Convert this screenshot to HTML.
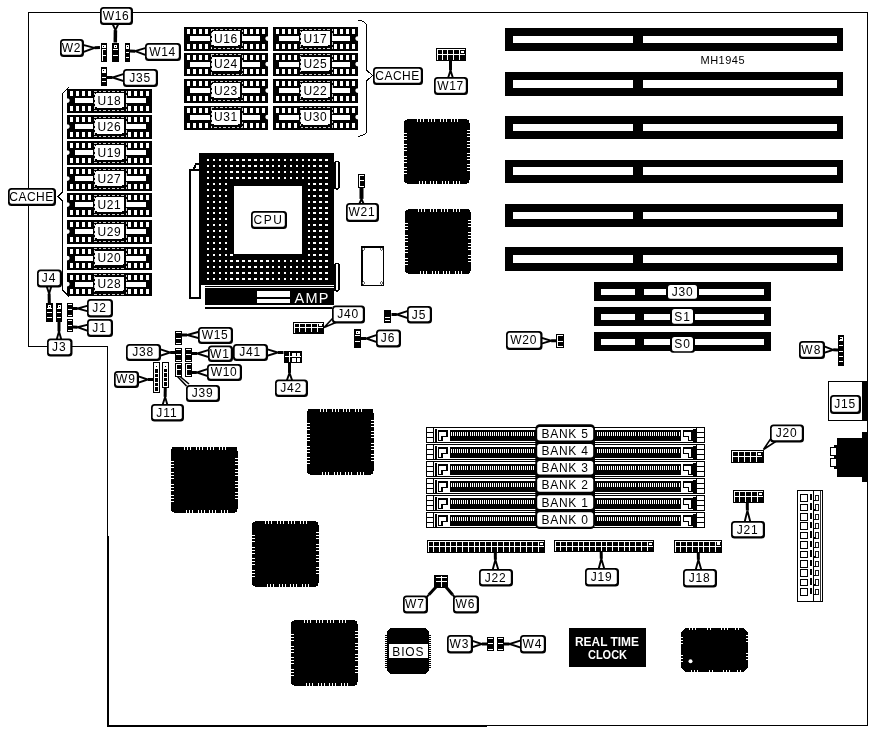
<!DOCTYPE html>
<html><head><meta charset="utf-8"><title>Motherboard layout</title>
<style>
html,body{margin:0;padding:0;background:#fff;}
svg{display:block;will-change:transform;}
svg text{font-family:"Liberation Sans",sans-serif;}
</style></head>
<body>
<svg width="873" height="731" viewBox="0 0 873 731" shape-rendering="crispEdges">
<rect x="0" y="0" width="873" height="731" fill="#fff"/>
<path d="M28.5,12.5 H867.5 V725.5 H107.5 V346.5 H28.5 Z" fill="none" stroke="#000" stroke-width="1"/>
<rect x="107" y="725" width="380" height="2" fill="#000" />
<rect x="107" y="536" width="2" height="191" fill="#000" />
<polygon points="112.63,24.0 115.43,30.11 118.37,24.0" fill="#fff" stroke="#000" stroke-width="1.9" stroke-linejoin="miter" shape-rendering="auto"/>
<line x1="115.43" y1="30.11" x2="115.3" y2="42.5" stroke="#000" stroke-width="3.5" shape-rendering="auto"/>
<rect x="100" y="7" width="33" height="18" rx="3.5" ry="3.5" fill="#000" shape-rendering="auto"/>
<rect x="101.7" y="8.7" width="29.1" height="14.1" rx="2" ry="2" fill="#fff" shape-rendering="auto"/>
<text x="116.0" y="19.82" font-size="12" letter-spacing="0.6" text-anchor="middle">W16</text>
<polygon points="83.0,44.81 94.56,47.82 83.0,52.19" fill="#fff" stroke="#000" stroke-width="1.9" stroke-linejoin="miter" shape-rendering="auto"/>
<line x1="94.56" y1="47.82" x2="100" y2="47.5" stroke="#000" stroke-width="3" shape-rendering="auto"/>
<rect x="60" y="39" width="24" height="18" rx="3.5" ry="3.5" fill="#000" shape-rendering="auto"/>
<rect x="61.7" y="40.7" width="20.1" height="14.1" rx="2" ry="2" fill="#fff" shape-rendering="auto"/>
<text x="71.5" y="51.82" font-size="12" letter-spacing="0.8" text-anchor="middle">W2</text>
<polygon points="146.0,47.81 135.12,51.16 146.0,55.19" fill="#fff" stroke="#000" stroke-width="1.9" stroke-linejoin="miter" shape-rendering="auto"/>
<line x1="135.12" y1="51.16" x2="130" y2="51" stroke="#000" stroke-width="3" shape-rendering="auto"/>
<rect x="145" y="43" width="36" height="18" rx="3.5" ry="3.5" fill="#000" shape-rendering="auto"/>
<rect x="146.7" y="44.7" width="32.1" height="14.1" rx="2" ry="2" fill="#fff" shape-rendering="auto"/>
<text x="162.5" y="55.82" font-size="12" letter-spacing="0.6" text-anchor="middle">W14</text>
<polygon points="124.0,73.81 112.44,77.5 124.0,81.19" fill="#fff" stroke="#000" stroke-width="1.9" stroke-linejoin="miter" shape-rendering="auto"/>
<line x1="112.44" y1="77.5" x2="107" y2="77.5" stroke="#000" stroke-width="3" shape-rendering="auto"/>
<rect x="123" y="69" width="35" height="18" rx="3.5" ry="3.5" fill="#000" shape-rendering="auto"/>
<rect x="124.7" y="70.7" width="31.1" height="14.1" rx="2" ry="2" fill="#fff" shape-rendering="auto"/>
<text x="140.0" y="81.82" font-size="12" letter-spacing="0.8" text-anchor="middle">J35</text>
<rect x="100.5" y="43" width="6.5" height="18.5" fill="#000" />
<rect x="102.0" y="44.5" width="3.5" height="3.0" fill="#fff" />
<rect x="103.2" y="45.5" width="1.1" height="1.0" fill="#000" />
<rect x="101.5" y="49.2" width="4.5" height="1.0" fill="#fff" />
<rect x="101.5" y="55.3" width="4.5" height="1.0" fill="#fff" />
<rect x="101.5" y="49" width="1.5" height="11.5" fill="#fff" />
<rect x="112.3" y="43" width="6.4" height="18.5" fill="#000" />
<rect x="113.8" y="44.5" width="3.4" height="3.0" fill="#fff" />
<rect x="114.9" y="45.5" width="1.2" height="1.0" fill="#000" />
<rect x="113.3" y="49.2" width="4.4" height="1.0" fill="#fff" />
<rect x="113.3" y="55.3" width="4.4" height="1.0" fill="#fff" />
<rect x="124.5" y="43" width="5.5" height="18.5" fill="#000" />
<rect x="126.0" y="44.5" width="2.5" height="3.0" fill="#fff" />
<rect x="126.7" y="45.5" width="1.1" height="1.0" fill="#000" />
<rect x="125.5" y="47.6" width="3.5" height="1.0" fill="#fff" />
<rect x="125.5" y="52.2" width="3.5" height="1.0" fill="#fff" />
<rect x="125.5" y="56.9" width="3.5" height="1.0" fill="#fff" />
<rect x="100.5" y="67" width="6.5" height="19" fill="#000" />
<rect x="102.0" y="68.5" width="3.5" height="3.0" fill="#fff" />
<rect x="103.2" y="69.5" width="1.1" height="1.0" fill="#000" />
<rect x="101.5" y="71.8" width="4.5" height="1.0" fill="#fff" />
<rect x="101.5" y="76.5" width="4.5" height="1.0" fill="#fff" />
<rect x="101.5" y="81.2" width="4.5" height="1.0" fill="#fff" />
<rect x="67" y="89" width="85" height="23.5" fill="#000" />
<rect x="70" y="91" width="3" height="5" fill="#fff" />
<rect x="70" y="105.5" width="3" height="5.0" fill="#fff" />
<rect x="146" y="91" width="3" height="5" fill="#fff" />
<rect x="146" y="105.5" width="3" height="5.0" fill="#fff" />
<rect x="76" y="91" width="3" height="5" fill="#fff" />
<rect x="76" y="105.5" width="3" height="5.0" fill="#fff" />
<rect x="140" y="91" width="3" height="5" fill="#fff" />
<rect x="140" y="105.5" width="3" height="5.0" fill="#fff" />
<rect x="82" y="91" width="3" height="5" fill="#fff" />
<rect x="82" y="105.5" width="3" height="5.0" fill="#fff" />
<rect x="134" y="91" width="3" height="5" fill="#fff" />
<rect x="134" y="105.5" width="3" height="5.0" fill="#fff" />
<rect x="88" y="91" width="3" height="5" fill="#fff" />
<rect x="88" y="105.5" width="3" height="5.0" fill="#fff" />
<rect x="128" y="91" width="3" height="5" fill="#fff" />
<rect x="128" y="105.5" width="3" height="5.0" fill="#fff" />
<rect x="75" y="98" width="18" height="5" fill="#fff" />
<rect x="126" y="98" width="20" height="5" fill="#fff" />
<path d="M66.8,98.3 a2.8,2.3 0 0 1 0,4.6 z" fill="#fff" shape-rendering="auto"/>
<rect x="94" y="91" width="32" height="19.5" fill="none" stroke="#fff" stroke-width="0.8" stroke-dasharray="2.5,2"/>
<rect x="95" y="93" width="29" height="14.5" rx="2" ry="2" fill="#fff"/>
<text x="109.5" y="104.55" font-size="12" letter-spacing="0.6" text-anchor="middle">U18</text>
<rect x="67" y="115" width="85" height="23.5" fill="#000" />
<rect x="70" y="117" width="3" height="5" fill="#fff" />
<rect x="70" y="131.5" width="3" height="5.0" fill="#fff" />
<rect x="146" y="117" width="3" height="5" fill="#fff" />
<rect x="146" y="131.5" width="3" height="5.0" fill="#fff" />
<rect x="76" y="117" width="3" height="5" fill="#fff" />
<rect x="76" y="131.5" width="3" height="5.0" fill="#fff" />
<rect x="140" y="117" width="3" height="5" fill="#fff" />
<rect x="140" y="131.5" width="3" height="5.0" fill="#fff" />
<rect x="82" y="117" width="3" height="5" fill="#fff" />
<rect x="82" y="131.5" width="3" height="5.0" fill="#fff" />
<rect x="134" y="117" width="3" height="5" fill="#fff" />
<rect x="134" y="131.5" width="3" height="5.0" fill="#fff" />
<rect x="88" y="117" width="3" height="5" fill="#fff" />
<rect x="88" y="131.5" width="3" height="5.0" fill="#fff" />
<rect x="128" y="117" width="3" height="5" fill="#fff" />
<rect x="128" y="131.5" width="3" height="5.0" fill="#fff" />
<rect x="75" y="124" width="18" height="5" fill="#fff" />
<rect x="126" y="124" width="20" height="5" fill="#fff" />
<path d="M66.8,124.3 a2.8,2.3 0 0 1 0,4.6 z" fill="#fff" shape-rendering="auto"/>
<rect x="94" y="117" width="32" height="19.5" fill="none" stroke="#fff" stroke-width="0.8" stroke-dasharray="2.5,2"/>
<rect x="95" y="119" width="29" height="14.5" rx="2" ry="2" fill="#fff"/>
<text x="109.5" y="130.55" font-size="12" letter-spacing="0.6" text-anchor="middle">U26</text>
<rect x="67" y="141" width="85" height="23.5" fill="#000" />
<rect x="70" y="143" width="3" height="5" fill="#fff" />
<rect x="70" y="157.5" width="3" height="5.0" fill="#fff" />
<rect x="146" y="143" width="3" height="5" fill="#fff" />
<rect x="146" y="157.5" width="3" height="5.0" fill="#fff" />
<rect x="76" y="143" width="3" height="5" fill="#fff" />
<rect x="76" y="157.5" width="3" height="5.0" fill="#fff" />
<rect x="140" y="143" width="3" height="5" fill="#fff" />
<rect x="140" y="157.5" width="3" height="5.0" fill="#fff" />
<rect x="82" y="143" width="3" height="5" fill="#fff" />
<rect x="82" y="157.5" width="3" height="5.0" fill="#fff" />
<rect x="134" y="143" width="3" height="5" fill="#fff" />
<rect x="134" y="157.5" width="3" height="5.0" fill="#fff" />
<rect x="88" y="143" width="3" height="5" fill="#fff" />
<rect x="88" y="157.5" width="3" height="5.0" fill="#fff" />
<rect x="128" y="143" width="3" height="5" fill="#fff" />
<rect x="128" y="157.5" width="3" height="5.0" fill="#fff" />
<rect x="75" y="150" width="18" height="5" fill="#fff" />
<rect x="126" y="150" width="20" height="5" fill="#fff" />
<path d="M66.8,150.3 a2.8,2.3 0 0 1 0,4.6 z" fill="#fff" shape-rendering="auto"/>
<rect x="94" y="143" width="32" height="19.5" fill="none" stroke="#fff" stroke-width="0.8" stroke-dasharray="2.5,2"/>
<rect x="95" y="145" width="29" height="14.5" rx="2" ry="2" fill="#fff"/>
<text x="109.5" y="156.55" font-size="12" letter-spacing="0.6" text-anchor="middle">U19</text>
<rect x="67" y="167" width="85" height="23.5" fill="#000" />
<rect x="70" y="169" width="3" height="5" fill="#fff" />
<rect x="70" y="183.5" width="3" height="5.0" fill="#fff" />
<rect x="146" y="169" width="3" height="5" fill="#fff" />
<rect x="146" y="183.5" width="3" height="5.0" fill="#fff" />
<rect x="76" y="169" width="3" height="5" fill="#fff" />
<rect x="76" y="183.5" width="3" height="5.0" fill="#fff" />
<rect x="140" y="169" width="3" height="5" fill="#fff" />
<rect x="140" y="183.5" width="3" height="5.0" fill="#fff" />
<rect x="82" y="169" width="3" height="5" fill="#fff" />
<rect x="82" y="183.5" width="3" height="5.0" fill="#fff" />
<rect x="134" y="169" width="3" height="5" fill="#fff" />
<rect x="134" y="183.5" width="3" height="5.0" fill="#fff" />
<rect x="88" y="169" width="3" height="5" fill="#fff" />
<rect x="88" y="183.5" width="3" height="5.0" fill="#fff" />
<rect x="128" y="169" width="3" height="5" fill="#fff" />
<rect x="128" y="183.5" width="3" height="5.0" fill="#fff" />
<rect x="75" y="176" width="18" height="5" fill="#fff" />
<rect x="126" y="176" width="20" height="5" fill="#fff" />
<path d="M66.8,176.3 a2.8,2.3 0 0 1 0,4.6 z" fill="#fff" shape-rendering="auto"/>
<rect x="94" y="169" width="32" height="19.5" fill="none" stroke="#fff" stroke-width="0.8" stroke-dasharray="2.5,2"/>
<rect x="95" y="171" width="29" height="14.5" rx="2" ry="2" fill="#fff"/>
<text x="109.5" y="182.55" font-size="12" letter-spacing="0.6" text-anchor="middle">U27</text>
<rect x="67" y="193" width="85" height="23.5" fill="#000" />
<rect x="70" y="195" width="3" height="5" fill="#fff" />
<rect x="70" y="209.5" width="3" height="5.0" fill="#fff" />
<rect x="146" y="195" width="3" height="5" fill="#fff" />
<rect x="146" y="209.5" width="3" height="5.0" fill="#fff" />
<rect x="76" y="195" width="3" height="5" fill="#fff" />
<rect x="76" y="209.5" width="3" height="5.0" fill="#fff" />
<rect x="140" y="195" width="3" height="5" fill="#fff" />
<rect x="140" y="209.5" width="3" height="5.0" fill="#fff" />
<rect x="82" y="195" width="3" height="5" fill="#fff" />
<rect x="82" y="209.5" width="3" height="5.0" fill="#fff" />
<rect x="134" y="195" width="3" height="5" fill="#fff" />
<rect x="134" y="209.5" width="3" height="5.0" fill="#fff" />
<rect x="88" y="195" width="3" height="5" fill="#fff" />
<rect x="88" y="209.5" width="3" height="5.0" fill="#fff" />
<rect x="128" y="195" width="3" height="5" fill="#fff" />
<rect x="128" y="209.5" width="3" height="5.0" fill="#fff" />
<rect x="75" y="202" width="18" height="5" fill="#fff" />
<rect x="126" y="202" width="20" height="5" fill="#fff" />
<path d="M66.8,202.3 a2.8,2.3 0 0 1 0,4.6 z" fill="#fff" shape-rendering="auto"/>
<rect x="94" y="195" width="32" height="19.5" fill="none" stroke="#fff" stroke-width="0.8" stroke-dasharray="2.5,2"/>
<rect x="95" y="197" width="29" height="14.5" rx="2" ry="2" fill="#fff"/>
<text x="109.5" y="208.55" font-size="12" letter-spacing="0.6" text-anchor="middle">U21</text>
<rect x="67" y="220" width="85" height="23.5" fill="#000" />
<rect x="70" y="222" width="3" height="5" fill="#fff" />
<rect x="70" y="236.5" width="3" height="5.0" fill="#fff" />
<rect x="146" y="222" width="3" height="5" fill="#fff" />
<rect x="146" y="236.5" width="3" height="5.0" fill="#fff" />
<rect x="76" y="222" width="3" height="5" fill="#fff" />
<rect x="76" y="236.5" width="3" height="5.0" fill="#fff" />
<rect x="140" y="222" width="3" height="5" fill="#fff" />
<rect x="140" y="236.5" width="3" height="5.0" fill="#fff" />
<rect x="82" y="222" width="3" height="5" fill="#fff" />
<rect x="82" y="236.5" width="3" height="5.0" fill="#fff" />
<rect x="134" y="222" width="3" height="5" fill="#fff" />
<rect x="134" y="236.5" width="3" height="5.0" fill="#fff" />
<rect x="88" y="222" width="3" height="5" fill="#fff" />
<rect x="88" y="236.5" width="3" height="5.0" fill="#fff" />
<rect x="128" y="222" width="3" height="5" fill="#fff" />
<rect x="128" y="236.5" width="3" height="5.0" fill="#fff" />
<rect x="75" y="229" width="18" height="5" fill="#fff" />
<rect x="126" y="229" width="20" height="5" fill="#fff" />
<path d="M66.8,229.3 a2.8,2.3 0 0 1 0,4.6 z" fill="#fff" shape-rendering="auto"/>
<rect x="94" y="222" width="32" height="19.5" fill="none" stroke="#fff" stroke-width="0.8" stroke-dasharray="2.5,2"/>
<rect x="95" y="224" width="29" height="14.5" rx="2" ry="2" fill="#fff"/>
<text x="109.5" y="235.55" font-size="12" letter-spacing="0.6" text-anchor="middle">U29</text>
<rect x="67" y="246.5" width="85" height="23.5" fill="#000" />
<rect x="70" y="248.5" width="3" height="5.0" fill="#fff" />
<rect x="70" y="263.0" width="3" height="5.0" fill="#fff" />
<rect x="146" y="248.5" width="3" height="5.0" fill="#fff" />
<rect x="146" y="263.0" width="3" height="5.0" fill="#fff" />
<rect x="76" y="248.5" width="3" height="5.0" fill="#fff" />
<rect x="76" y="263.0" width="3" height="5.0" fill="#fff" />
<rect x="140" y="248.5" width="3" height="5.0" fill="#fff" />
<rect x="140" y="263.0" width="3" height="5.0" fill="#fff" />
<rect x="82" y="248.5" width="3" height="5.0" fill="#fff" />
<rect x="82" y="263.0" width="3" height="5.0" fill="#fff" />
<rect x="134" y="248.5" width="3" height="5.0" fill="#fff" />
<rect x="134" y="263.0" width="3" height="5.0" fill="#fff" />
<rect x="88" y="248.5" width="3" height="5.0" fill="#fff" />
<rect x="88" y="263.0" width="3" height="5.0" fill="#fff" />
<rect x="128" y="248.5" width="3" height="5.0" fill="#fff" />
<rect x="128" y="263.0" width="3" height="5.0" fill="#fff" />
<rect x="75" y="255.5" width="18" height="5.0" fill="#fff" />
<rect x="126" y="255.5" width="20" height="5.0" fill="#fff" />
<path d="M66.8,255.8 a2.8,2.3 0 0 1 0,4.6 z" fill="#fff" shape-rendering="auto"/>
<rect x="94" y="248.5" width="32" height="19.5" fill="none" stroke="#fff" stroke-width="0.8" stroke-dasharray="2.5,2"/>
<rect x="95" y="250.5" width="29" height="14.5" rx="2" ry="2" fill="#fff"/>
<text x="109.5" y="262.05" font-size="12" letter-spacing="0.6" text-anchor="middle">U20</text>
<rect x="67" y="272.5" width="85" height="23.5" fill="#000" />
<rect x="70" y="274.5" width="3" height="5.0" fill="#fff" />
<rect x="70" y="289.0" width="3" height="5.0" fill="#fff" />
<rect x="146" y="274.5" width="3" height="5.0" fill="#fff" />
<rect x="146" y="289.0" width="3" height="5.0" fill="#fff" />
<rect x="76" y="274.5" width="3" height="5.0" fill="#fff" />
<rect x="76" y="289.0" width="3" height="5.0" fill="#fff" />
<rect x="140" y="274.5" width="3" height="5.0" fill="#fff" />
<rect x="140" y="289.0" width="3" height="5.0" fill="#fff" />
<rect x="82" y="274.5" width="3" height="5.0" fill="#fff" />
<rect x="82" y="289.0" width="3" height="5.0" fill="#fff" />
<rect x="134" y="274.5" width="3" height="5.0" fill="#fff" />
<rect x="134" y="289.0" width="3" height="5.0" fill="#fff" />
<rect x="88" y="274.5" width="3" height="5.0" fill="#fff" />
<rect x="88" y="289.0" width="3" height="5.0" fill="#fff" />
<rect x="128" y="274.5" width="3" height="5.0" fill="#fff" />
<rect x="128" y="289.0" width="3" height="5.0" fill="#fff" />
<rect x="75" y="281.5" width="18" height="5.0" fill="#fff" />
<rect x="126" y="281.5" width="20" height="5.0" fill="#fff" />
<path d="M66.8,281.8 a2.8,2.3 0 0 1 0,4.6 z" fill="#fff" shape-rendering="auto"/>
<rect x="94" y="274.5" width="32" height="19.5" fill="none" stroke="#fff" stroke-width="0.8" stroke-dasharray="2.5,2"/>
<rect x="95" y="276.5" width="29" height="14.5" rx="2" ry="2" fill="#fff"/>
<text x="109.5" y="288.05" font-size="12" letter-spacing="0.6" text-anchor="middle">U28</text>
<path d="M69,87 L62.5,93.5 V192 L58,196.5 L62.5,201 V290 L69,296.5" fill="none" stroke="#000" stroke-width="1"/>
<rect x="8" y="188" width="48" height="18" rx="3.5" ry="3.5" fill="#000" shape-rendering="auto"/>
<rect x="9.7" y="189.7" width="44.1" height="14.1" rx="2" ry="2" fill="#fff" shape-rendering="auto"/>
<text x="31.5" y="200.82" font-size="12" letter-spacing="0.5" text-anchor="middle">CACHE</text>
<rect x="184" y="27" width="84" height="23.5" fill="#000" />
<rect x="187" y="29" width="3" height="5" fill="#fff" />
<rect x="187" y="43.5" width="3" height="5.0" fill="#fff" />
<rect x="262" y="29" width="3" height="5" fill="#fff" />
<rect x="262" y="43.5" width="3" height="5.0" fill="#fff" />
<rect x="193" y="29" width="3" height="5" fill="#fff" />
<rect x="193" y="43.5" width="3" height="5.0" fill="#fff" />
<rect x="256" y="29" width="3" height="5" fill="#fff" />
<rect x="256" y="43.5" width="3" height="5.0" fill="#fff" />
<rect x="199" y="29" width="3" height="5" fill="#fff" />
<rect x="199" y="43.5" width="3" height="5.0" fill="#fff" />
<rect x="250" y="29" width="3" height="5" fill="#fff" />
<rect x="250" y="43.5" width="3" height="5.0" fill="#fff" />
<rect x="205" y="29" width="3" height="5" fill="#fff" />
<rect x="205" y="43.5" width="3" height="5.0" fill="#fff" />
<rect x="244" y="29" width="3" height="5" fill="#fff" />
<rect x="244" y="43.5" width="3" height="5.0" fill="#fff" />
<rect x="190" y="36" width="20" height="5" fill="#fff" />
<rect x="242" y="36" width="18" height="5" fill="#fff" />
<path d="M268.2,36.3 a2.8,2.3 0 0 0 0,4.6 z" fill="#fff" shape-rendering="auto"/>
<rect x="211" y="29" width="31" height="19.5" fill="none" stroke="#fff" stroke-width="0.8" stroke-dasharray="2.5,2"/>
<rect x="212" y="31" width="28" height="14.5" rx="2" ry="2" fill="#fff"/>
<text x="226.0" y="42.55" font-size="12" letter-spacing="0.6" text-anchor="middle">U16</text>
<rect x="273" y="27" width="85" height="23.5" fill="#000" />
<rect x="276" y="29" width="3" height="5" fill="#fff" />
<rect x="276" y="43.5" width="3" height="5.0" fill="#fff" />
<rect x="352" y="29" width="3" height="5" fill="#fff" />
<rect x="352" y="43.5" width="3" height="5.0" fill="#fff" />
<rect x="282" y="29" width="3" height="5" fill="#fff" />
<rect x="282" y="43.5" width="3" height="5.0" fill="#fff" />
<rect x="346" y="29" width="3" height="5" fill="#fff" />
<rect x="346" y="43.5" width="3" height="5.0" fill="#fff" />
<rect x="288" y="29" width="3" height="5" fill="#fff" />
<rect x="288" y="43.5" width="3" height="5.0" fill="#fff" />
<rect x="340" y="29" width="3" height="5" fill="#fff" />
<rect x="340" y="43.5" width="3" height="5.0" fill="#fff" />
<rect x="294" y="29" width="3" height="5" fill="#fff" />
<rect x="294" y="43.5" width="3" height="5.0" fill="#fff" />
<rect x="334" y="29" width="3" height="5" fill="#fff" />
<rect x="334" y="43.5" width="3" height="5.0" fill="#fff" />
<rect x="279" y="36" width="20" height="5" fill="#fff" />
<rect x="332" y="36" width="18" height="5" fill="#fff" />
<path d="M358.2,36.3 a2.8,2.3 0 0 0 0,4.6 z" fill="#fff" shape-rendering="auto"/>
<rect x="300" y="29" width="32" height="19.5" fill="none" stroke="#fff" stroke-width="0.8" stroke-dasharray="2.5,2"/>
<rect x="301" y="31" width="29" height="14.5" rx="2" ry="2" fill="#fff"/>
<text x="315.5" y="42.55" font-size="12" letter-spacing="0.6" text-anchor="middle">U17</text>
<rect x="184" y="52.5" width="84" height="23.5" fill="#000" />
<rect x="187" y="54.5" width="3" height="5.0" fill="#fff" />
<rect x="187" y="69.0" width="3" height="5.0" fill="#fff" />
<rect x="262" y="54.5" width="3" height="5.0" fill="#fff" />
<rect x="262" y="69.0" width="3" height="5.0" fill="#fff" />
<rect x="193" y="54.5" width="3" height="5.0" fill="#fff" />
<rect x="193" y="69.0" width="3" height="5.0" fill="#fff" />
<rect x="256" y="54.5" width="3" height="5.0" fill="#fff" />
<rect x="256" y="69.0" width="3" height="5.0" fill="#fff" />
<rect x="199" y="54.5" width="3" height="5.0" fill="#fff" />
<rect x="199" y="69.0" width="3" height="5.0" fill="#fff" />
<rect x="250" y="54.5" width="3" height="5.0" fill="#fff" />
<rect x="250" y="69.0" width="3" height="5.0" fill="#fff" />
<rect x="205" y="54.5" width="3" height="5.0" fill="#fff" />
<rect x="205" y="69.0" width="3" height="5.0" fill="#fff" />
<rect x="244" y="54.5" width="3" height="5.0" fill="#fff" />
<rect x="244" y="69.0" width="3" height="5.0" fill="#fff" />
<rect x="190" y="61.5" width="20" height="5.0" fill="#fff" />
<rect x="242" y="61.5" width="18" height="5.0" fill="#fff" />
<path d="M268.2,61.8 a2.8,2.3 0 0 0 0,4.6 z" fill="#fff" shape-rendering="auto"/>
<rect x="211" y="54.5" width="31" height="19.5" fill="none" stroke="#fff" stroke-width="0.8" stroke-dasharray="2.5,2"/>
<rect x="212" y="56.5" width="28" height="14.5" rx="2" ry="2" fill="#fff"/>
<text x="226.0" y="68.05" font-size="12" letter-spacing="0.6" text-anchor="middle">U24</text>
<rect x="273" y="52.5" width="85" height="23.5" fill="#000" />
<rect x="276" y="54.5" width="3" height="5.0" fill="#fff" />
<rect x="276" y="69.0" width="3" height="5.0" fill="#fff" />
<rect x="352" y="54.5" width="3" height="5.0" fill="#fff" />
<rect x="352" y="69.0" width="3" height="5.0" fill="#fff" />
<rect x="282" y="54.5" width="3" height="5.0" fill="#fff" />
<rect x="282" y="69.0" width="3" height="5.0" fill="#fff" />
<rect x="346" y="54.5" width="3" height="5.0" fill="#fff" />
<rect x="346" y="69.0" width="3" height="5.0" fill="#fff" />
<rect x="288" y="54.5" width="3" height="5.0" fill="#fff" />
<rect x="288" y="69.0" width="3" height="5.0" fill="#fff" />
<rect x="340" y="54.5" width="3" height="5.0" fill="#fff" />
<rect x="340" y="69.0" width="3" height="5.0" fill="#fff" />
<rect x="294" y="54.5" width="3" height="5.0" fill="#fff" />
<rect x="294" y="69.0" width="3" height="5.0" fill="#fff" />
<rect x="334" y="54.5" width="3" height="5.0" fill="#fff" />
<rect x="334" y="69.0" width="3" height="5.0" fill="#fff" />
<rect x="279" y="61.5" width="20" height="5.0" fill="#fff" />
<rect x="332" y="61.5" width="18" height="5.0" fill="#fff" />
<path d="M358.2,61.8 a2.8,2.3 0 0 0 0,4.6 z" fill="#fff" shape-rendering="auto"/>
<rect x="300" y="54.5" width="32" height="19.5" fill="none" stroke="#fff" stroke-width="0.8" stroke-dasharray="2.5,2"/>
<rect x="301" y="56.5" width="29" height="14.5" rx="2" ry="2" fill="#fff"/>
<text x="315.5" y="68.05" font-size="12" letter-spacing="0.6" text-anchor="middle">U25</text>
<rect x="184" y="79" width="84" height="23.5" fill="#000" />
<rect x="187" y="81" width="3" height="5" fill="#fff" />
<rect x="187" y="95.5" width="3" height="5.0" fill="#fff" />
<rect x="262" y="81" width="3" height="5" fill="#fff" />
<rect x="262" y="95.5" width="3" height="5.0" fill="#fff" />
<rect x="193" y="81" width="3" height="5" fill="#fff" />
<rect x="193" y="95.5" width="3" height="5.0" fill="#fff" />
<rect x="256" y="81" width="3" height="5" fill="#fff" />
<rect x="256" y="95.5" width="3" height="5.0" fill="#fff" />
<rect x="199" y="81" width="3" height="5" fill="#fff" />
<rect x="199" y="95.5" width="3" height="5.0" fill="#fff" />
<rect x="250" y="81" width="3" height="5" fill="#fff" />
<rect x="250" y="95.5" width="3" height="5.0" fill="#fff" />
<rect x="205" y="81" width="3" height="5" fill="#fff" />
<rect x="205" y="95.5" width="3" height="5.0" fill="#fff" />
<rect x="244" y="81" width="3" height="5" fill="#fff" />
<rect x="244" y="95.5" width="3" height="5.0" fill="#fff" />
<rect x="190" y="88" width="20" height="5" fill="#fff" />
<rect x="242" y="88" width="18" height="5" fill="#fff" />
<path d="M268.2,88.3 a2.8,2.3 0 0 0 0,4.6 z" fill="#fff" shape-rendering="auto"/>
<rect x="211" y="81" width="31" height="19.5" fill="none" stroke="#fff" stroke-width="0.8" stroke-dasharray="2.5,2"/>
<rect x="212" y="83" width="28" height="14.5" rx="2" ry="2" fill="#fff"/>
<text x="226.0" y="94.55" font-size="12" letter-spacing="0.6" text-anchor="middle">U23</text>
<rect x="273" y="79" width="85" height="23.5" fill="#000" />
<rect x="276" y="81" width="3" height="5" fill="#fff" />
<rect x="276" y="95.5" width="3" height="5.0" fill="#fff" />
<rect x="352" y="81" width="3" height="5" fill="#fff" />
<rect x="352" y="95.5" width="3" height="5.0" fill="#fff" />
<rect x="282" y="81" width="3" height="5" fill="#fff" />
<rect x="282" y="95.5" width="3" height="5.0" fill="#fff" />
<rect x="346" y="81" width="3" height="5" fill="#fff" />
<rect x="346" y="95.5" width="3" height="5.0" fill="#fff" />
<rect x="288" y="81" width="3" height="5" fill="#fff" />
<rect x="288" y="95.5" width="3" height="5.0" fill="#fff" />
<rect x="340" y="81" width="3" height="5" fill="#fff" />
<rect x="340" y="95.5" width="3" height="5.0" fill="#fff" />
<rect x="294" y="81" width="3" height="5" fill="#fff" />
<rect x="294" y="95.5" width="3" height="5.0" fill="#fff" />
<rect x="334" y="81" width="3" height="5" fill="#fff" />
<rect x="334" y="95.5" width="3" height="5.0" fill="#fff" />
<rect x="279" y="88" width="20" height="5" fill="#fff" />
<rect x="332" y="88" width="18" height="5" fill="#fff" />
<path d="M358.2,88.3 a2.8,2.3 0 0 0 0,4.6 z" fill="#fff" shape-rendering="auto"/>
<rect x="300" y="81" width="32" height="19.5" fill="none" stroke="#fff" stroke-width="0.8" stroke-dasharray="2.5,2"/>
<rect x="301" y="83" width="29" height="14.5" rx="2" ry="2" fill="#fff"/>
<text x="315.5" y="94.55" font-size="12" letter-spacing="0.6" text-anchor="middle">U22</text>
<rect x="184" y="105.5" width="84" height="24.0" fill="#000" />
<rect x="187" y="107.5" width="3" height="5.0" fill="#fff" />
<rect x="187" y="122.5" width="3" height="5.0" fill="#fff" />
<rect x="262" y="107.5" width="3" height="5.0" fill="#fff" />
<rect x="262" y="122.5" width="3" height="5.0" fill="#fff" />
<rect x="193" y="107.5" width="3" height="5.0" fill="#fff" />
<rect x="193" y="122.5" width="3" height="5.0" fill="#fff" />
<rect x="256" y="107.5" width="3" height="5.0" fill="#fff" />
<rect x="256" y="122.5" width="3" height="5.0" fill="#fff" />
<rect x="199" y="107.5" width="3" height="5.0" fill="#fff" />
<rect x="199" y="122.5" width="3" height="5.0" fill="#fff" />
<rect x="250" y="107.5" width="3" height="5.0" fill="#fff" />
<rect x="250" y="122.5" width="3" height="5.0" fill="#fff" />
<rect x="205" y="107.5" width="3" height="5.0" fill="#fff" />
<rect x="205" y="122.5" width="3" height="5.0" fill="#fff" />
<rect x="244" y="107.5" width="3" height="5.0" fill="#fff" />
<rect x="244" y="122.5" width="3" height="5.0" fill="#fff" />
<rect x="190" y="114.5" width="20" height="5.0" fill="#fff" />
<rect x="242" y="114.5" width="18" height="5.0" fill="#fff" />
<path d="M268.2,114.8 a2.8,2.3 0 0 0 0,4.6 z" fill="#fff" shape-rendering="auto"/>
<rect x="211" y="107.5" width="31" height="20.0" fill="none" stroke="#fff" stroke-width="0.8" stroke-dasharray="2.5,2"/>
<rect x="212" y="109.5" width="28" height="15.0" rx="2" ry="2" fill="#fff"/>
<text x="226.0" y="121.3" font-size="12" letter-spacing="0.6" text-anchor="middle">U31</text>
<rect x="273" y="105.5" width="85" height="24.0" fill="#000" />
<rect x="276" y="107.5" width="3" height="5.0" fill="#fff" />
<rect x="276" y="122.5" width="3" height="5.0" fill="#fff" />
<rect x="352" y="107.5" width="3" height="5.0" fill="#fff" />
<rect x="352" y="122.5" width="3" height="5.0" fill="#fff" />
<rect x="282" y="107.5" width="3" height="5.0" fill="#fff" />
<rect x="282" y="122.5" width="3" height="5.0" fill="#fff" />
<rect x="346" y="107.5" width="3" height="5.0" fill="#fff" />
<rect x="346" y="122.5" width="3" height="5.0" fill="#fff" />
<rect x="288" y="107.5" width="3" height="5.0" fill="#fff" />
<rect x="288" y="122.5" width="3" height="5.0" fill="#fff" />
<rect x="340" y="107.5" width="3" height="5.0" fill="#fff" />
<rect x="340" y="122.5" width="3" height="5.0" fill="#fff" />
<rect x="294" y="107.5" width="3" height="5.0" fill="#fff" />
<rect x="294" y="122.5" width="3" height="5.0" fill="#fff" />
<rect x="334" y="107.5" width="3" height="5.0" fill="#fff" />
<rect x="334" y="122.5" width="3" height="5.0" fill="#fff" />
<rect x="279" y="114.5" width="20" height="5.0" fill="#fff" />
<rect x="332" y="114.5" width="18" height="5.0" fill="#fff" />
<path d="M358.2,114.8 a2.8,2.3 0 0 0 0,4.6 z" fill="#fff" shape-rendering="auto"/>
<rect x="300" y="107.5" width="32" height="20.0" fill="none" stroke="#fff" stroke-width="0.8" stroke-dasharray="2.5,2"/>
<rect x="301" y="109.5" width="29" height="15.0" rx="2" ry="2" fill="#fff"/>
<text x="315.5" y="121.3" font-size="12" letter-spacing="0.6" text-anchor="middle">U30</text>
<path d="M358,20.5 Q366.5,21 366.5,26 V70 L372.5,75.5 L366.5,81 V131 Q366.5,135 358,136.5" fill="none" stroke="#000" stroke-width="1"/>
<rect x="373" y="67" width="50" height="18" rx="3.5" ry="3.5" fill="#000" shape-rendering="auto"/>
<rect x="374.7" y="68.7" width="46.1" height="14.1" rx="2" ry="2" fill="#fff" shape-rendering="auto"/>
<text x="397.5" y="79.82" font-size="12" letter-spacing="0.5" text-anchor="middle">CACHE</text>
<path d="M190,170 H193.5 L196,164 H199.5 V298.3 H190 Z" fill="#fff" stroke="#000" stroke-width="2"/>
<rect x="189" y="169" width="10.5" height="2" fill="#000" />
<rect x="199" y="153" width="135" height="132" fill="#000" />
<rect x="234" y="186" width="68" height="68" fill="#fff" />
<rect x="206.75" y="159.1" width="2.5" height="2.0" fill="#fff" />
<rect x="212.68" y="159.1" width="2.5" height="2.0" fill="#fff" />
<rect x="218.61" y="159.1" width="2.5" height="2.0" fill="#fff" />
<rect x="224.54" y="159.1" width="2.5" height="2.0" fill="#fff" />
<rect x="230.47" y="159.1" width="2.5" height="2.0" fill="#fff" />
<rect x="236.4" y="159.1" width="2.5" height="2.0" fill="#fff" />
<rect x="242.33" y="159.1" width="2.5" height="2.0" fill="#fff" />
<rect x="248.26" y="159.1" width="2.5" height="2.0" fill="#fff" />
<rect x="254.19" y="159.1" width="2.5" height="2.0" fill="#fff" />
<rect x="260.12" y="159.1" width="2.5" height="2.0" fill="#fff" />
<rect x="266.05" y="159.1" width="2.5" height="2.0" fill="#fff" />
<rect x="271.98" y="159.1" width="2.5" height="2.0" fill="#fff" />
<rect x="277.91" y="159.1" width="2.5" height="2.0" fill="#fff" />
<rect x="283.84" y="159.1" width="2.5" height="2.0" fill="#fff" />
<rect x="289.77" y="159.1" width="2.5" height="2.0" fill="#fff" />
<rect x="295.7" y="159.1" width="2.5" height="2.0" fill="#fff" />
<rect x="301.63" y="159.1" width="2.5" height="2.0" fill="#fff" />
<rect x="307.56" y="159.1" width="2.5" height="2.0" fill="#fff" />
<rect x="313.49" y="159.1" width="2.5" height="2.0" fill="#fff" />
<rect x="319.42" y="159.1" width="2.5" height="2.0" fill="#fff" />
<rect x="325.35" y="159.1" width="2.5" height="2.0" fill="#fff" />
<rect x="206.75" y="165.03" width="2.5" height="2.0" fill="#fff" />
<rect x="212.68" y="165.03" width="2.5" height="2.0" fill="#fff" />
<rect x="218.61" y="165.03" width="2.5" height="2.0" fill="#fff" />
<rect x="224.54" y="165.03" width="2.5" height="2.0" fill="#fff" />
<rect x="230.47" y="165.03" width="2.5" height="2.0" fill="#fff" />
<rect x="236.4" y="165.03" width="2.5" height="2.0" fill="#fff" />
<rect x="242.33" y="165.03" width="2.5" height="2.0" fill="#fff" />
<rect x="248.26" y="165.03" width="2.5" height="2.0" fill="#fff" />
<rect x="254.19" y="165.03" width="2.5" height="2.0" fill="#fff" />
<rect x="260.12" y="165.03" width="2.5" height="2.0" fill="#fff" />
<rect x="266.05" y="165.03" width="2.5" height="2.0" fill="#fff" />
<rect x="271.98" y="165.03" width="2.5" height="2.0" fill="#fff" />
<rect x="277.91" y="165.03" width="2.5" height="2.0" fill="#fff" />
<rect x="283.84" y="165.03" width="2.5" height="2.0" fill="#fff" />
<rect x="289.77" y="165.03" width="2.5" height="2.0" fill="#fff" />
<rect x="295.7" y="165.03" width="2.5" height="2.0" fill="#fff" />
<rect x="301.63" y="165.03" width="2.5" height="2.0" fill="#fff" />
<rect x="307.56" y="165.03" width="2.5" height="2.0" fill="#fff" />
<rect x="313.49" y="165.03" width="2.5" height="2.0" fill="#fff" />
<rect x="319.42" y="165.03" width="2.5" height="2.0" fill="#fff" />
<rect x="325.35" y="165.03" width="2.5" height="2.0" fill="#fff" />
<rect x="206.75" y="170.96" width="2.5" height="2.0" fill="#fff" />
<rect x="212.68" y="170.96" width="2.5" height="2.0" fill="#fff" />
<rect x="218.61" y="170.96" width="2.5" height="2.0" fill="#fff" />
<rect x="224.54" y="170.96" width="2.5" height="2.0" fill="#fff" />
<rect x="230.47" y="170.96" width="2.5" height="2.0" fill="#fff" />
<rect x="236.4" y="170.96" width="2.5" height="2.0" fill="#fff" />
<rect x="242.33" y="170.96" width="2.5" height="2.0" fill="#fff" />
<rect x="248.26" y="170.96" width="2.5" height="2.0" fill="#fff" />
<rect x="254.19" y="170.96" width="2.5" height="2.0" fill="#fff" />
<rect x="260.12" y="170.96" width="2.5" height="2.0" fill="#fff" />
<rect x="266.05" y="170.96" width="2.5" height="2.0" fill="#fff" />
<rect x="271.98" y="170.96" width="2.5" height="2.0" fill="#fff" />
<rect x="277.91" y="170.96" width="2.5" height="2.0" fill="#fff" />
<rect x="283.84" y="170.96" width="2.5" height="2.0" fill="#fff" />
<rect x="289.77" y="170.96" width="2.5" height="2.0" fill="#fff" />
<rect x="295.7" y="170.96" width="2.5" height="2.0" fill="#fff" />
<rect x="301.63" y="170.96" width="2.5" height="2.0" fill="#fff" />
<rect x="307.56" y="170.96" width="2.5" height="2.0" fill="#fff" />
<rect x="313.49" y="170.96" width="2.5" height="2.0" fill="#fff" />
<rect x="319.42" y="170.96" width="2.5" height="2.0" fill="#fff" />
<rect x="325.35" y="170.96" width="2.5" height="2.0" fill="#fff" />
<rect x="206.75" y="176.89" width="2.5" height="2.0" fill="#fff" />
<rect x="212.68" y="176.89" width="2.5" height="2.0" fill="#fff" />
<rect x="218.61" y="176.89" width="2.5" height="2.0" fill="#fff" />
<rect x="224.54" y="176.89" width="2.5" height="2.0" fill="#fff" />
<rect x="230.47" y="176.89" width="2.5" height="2.0" fill="#fff" />
<rect x="236.4" y="176.89" width="2.5" height="2.0" fill="#fff" />
<rect x="242.33" y="176.89" width="2.5" height="2.0" fill="#fff" />
<rect x="248.26" y="176.89" width="2.5" height="2.0" fill="#fff" />
<rect x="254.19" y="176.89" width="2.5" height="2.0" fill="#fff" />
<rect x="260.12" y="176.89" width="2.5" height="2.0" fill="#fff" />
<rect x="266.05" y="176.89" width="2.5" height="2.0" fill="#fff" />
<rect x="271.98" y="176.89" width="2.5" height="2.0" fill="#fff" />
<rect x="277.91" y="176.89" width="2.5" height="2.0" fill="#fff" />
<rect x="283.84" y="176.89" width="2.5" height="2.0" fill="#fff" />
<rect x="289.77" y="176.89" width="2.5" height="2.0" fill="#fff" />
<rect x="295.7" y="176.89" width="2.5" height="2.0" fill="#fff" />
<rect x="301.63" y="176.89" width="2.5" height="2.0" fill="#fff" />
<rect x="307.56" y="176.89" width="2.5" height="2.0" fill="#fff" />
<rect x="313.49" y="176.89" width="2.5" height="2.0" fill="#fff" />
<rect x="319.42" y="176.89" width="2.5" height="2.0" fill="#fff" />
<rect x="325.35" y="176.89" width="2.5" height="2.0" fill="#fff" />
<rect x="206.75" y="182.82" width="2.5" height="2.0" fill="#fff" />
<rect x="212.68" y="182.82" width="2.5" height="2.0" fill="#fff" />
<rect x="218.61" y="182.82" width="2.5" height="2.0" fill="#fff" />
<rect x="224.54" y="182.82" width="2.5" height="2.0" fill="#fff" />
<rect x="307.56" y="182.82" width="2.5" height="2.0" fill="#fff" />
<rect x="313.49" y="182.82" width="2.5" height="2.0" fill="#fff" />
<rect x="319.42" y="182.82" width="2.5" height="2.0" fill="#fff" />
<rect x="325.35" y="182.82" width="2.5" height="2.0" fill="#fff" />
<rect x="206.75" y="188.75" width="2.5" height="2.0" fill="#fff" />
<rect x="212.68" y="188.75" width="2.5" height="2.0" fill="#fff" />
<rect x="218.61" y="188.75" width="2.5" height="2.0" fill="#fff" />
<rect x="224.54" y="188.75" width="2.5" height="2.0" fill="#fff" />
<rect x="307.56" y="188.75" width="2.5" height="2.0" fill="#fff" />
<rect x="313.49" y="188.75" width="2.5" height="2.0" fill="#fff" />
<rect x="319.42" y="188.75" width="2.5" height="2.0" fill="#fff" />
<rect x="325.35" y="188.75" width="2.5" height="2.0" fill="#fff" />
<rect x="206.75" y="194.68" width="2.5" height="2.0" fill="#fff" />
<rect x="212.68" y="194.68" width="2.5" height="2.0" fill="#fff" />
<rect x="218.61" y="194.68" width="2.5" height="2.0" fill="#fff" />
<rect x="224.54" y="194.68" width="2.5" height="2.0" fill="#fff" />
<rect x="307.56" y="194.68" width="2.5" height="2.0" fill="#fff" />
<rect x="313.49" y="194.68" width="2.5" height="2.0" fill="#fff" />
<rect x="319.42" y="194.68" width="2.5" height="2.0" fill="#fff" />
<rect x="325.35" y="194.68" width="2.5" height="2.0" fill="#fff" />
<rect x="206.75" y="200.61" width="2.5" height="2.0" fill="#fff" />
<rect x="212.68" y="200.61" width="2.5" height="2.0" fill="#fff" />
<rect x="218.61" y="200.61" width="2.5" height="2.0" fill="#fff" />
<rect x="224.54" y="200.61" width="2.5" height="2.0" fill="#fff" />
<rect x="307.56" y="200.61" width="2.5" height="2.0" fill="#fff" />
<rect x="313.49" y="200.61" width="2.5" height="2.0" fill="#fff" />
<rect x="319.42" y="200.61" width="2.5" height="2.0" fill="#fff" />
<rect x="325.35" y="200.61" width="2.5" height="2.0" fill="#fff" />
<rect x="206.75" y="206.54" width="2.5" height="2.0" fill="#fff" />
<rect x="212.68" y="206.54" width="2.5" height="2.0" fill="#fff" />
<rect x="218.61" y="206.54" width="2.5" height="2.0" fill="#fff" />
<rect x="224.54" y="206.54" width="2.5" height="2.0" fill="#fff" />
<rect x="307.56" y="206.54" width="2.5" height="2.0" fill="#fff" />
<rect x="313.49" y="206.54" width="2.5" height="2.0" fill="#fff" />
<rect x="319.42" y="206.54" width="2.5" height="2.0" fill="#fff" />
<rect x="325.35" y="206.54" width="2.5" height="2.0" fill="#fff" />
<rect x="206.75" y="212.47" width="2.5" height="2.0" fill="#fff" />
<rect x="212.68" y="212.47" width="2.5" height="2.0" fill="#fff" />
<rect x="218.61" y="212.47" width="2.5" height="2.0" fill="#fff" />
<rect x="224.54" y="212.47" width="2.5" height="2.0" fill="#fff" />
<rect x="307.56" y="212.47" width="2.5" height="2.0" fill="#fff" />
<rect x="313.49" y="212.47" width="2.5" height="2.0" fill="#fff" />
<rect x="319.42" y="212.47" width="2.5" height="2.0" fill="#fff" />
<rect x="325.35" y="212.47" width="2.5" height="2.0" fill="#fff" />
<rect x="206.75" y="218.4" width="2.5" height="2.0" fill="#fff" />
<rect x="212.68" y="218.4" width="2.5" height="2.0" fill="#fff" />
<rect x="218.61" y="218.4" width="2.5" height="2.0" fill="#fff" />
<rect x="224.54" y="218.4" width="2.5" height="2.0" fill="#fff" />
<rect x="307.56" y="218.4" width="2.5" height="2.0" fill="#fff" />
<rect x="313.49" y="218.4" width="2.5" height="2.0" fill="#fff" />
<rect x="319.42" y="218.4" width="2.5" height="2.0" fill="#fff" />
<rect x="325.35" y="218.4" width="2.5" height="2.0" fill="#fff" />
<rect x="206.75" y="224.33" width="2.5" height="2.0" fill="#fff" />
<rect x="212.68" y="224.33" width="2.5" height="2.0" fill="#fff" />
<rect x="218.61" y="224.33" width="2.5" height="2.0" fill="#fff" />
<rect x="224.54" y="224.33" width="2.5" height="2.0" fill="#fff" />
<rect x="307.56" y="224.33" width="2.5" height="2.0" fill="#fff" />
<rect x="313.49" y="224.33" width="2.5" height="2.0" fill="#fff" />
<rect x="319.42" y="224.33" width="2.5" height="2.0" fill="#fff" />
<rect x="325.35" y="224.33" width="2.5" height="2.0" fill="#fff" />
<rect x="206.75" y="230.26" width="2.5" height="2.0" fill="#fff" />
<rect x="212.68" y="230.26" width="2.5" height="2.0" fill="#fff" />
<rect x="218.61" y="230.26" width="2.5" height="2.0" fill="#fff" />
<rect x="224.54" y="230.26" width="2.5" height="2.0" fill="#fff" />
<rect x="307.56" y="230.26" width="2.5" height="2.0" fill="#fff" />
<rect x="313.49" y="230.26" width="2.5" height="2.0" fill="#fff" />
<rect x="319.42" y="230.26" width="2.5" height="2.0" fill="#fff" />
<rect x="325.35" y="230.26" width="2.5" height="2.0" fill="#fff" />
<rect x="206.75" y="236.19" width="2.5" height="2.0" fill="#fff" />
<rect x="212.68" y="236.19" width="2.5" height="2.0" fill="#fff" />
<rect x="218.61" y="236.19" width="2.5" height="2.0" fill="#fff" />
<rect x="224.54" y="236.19" width="2.5" height="2.0" fill="#fff" />
<rect x="307.56" y="236.19" width="2.5" height="2.0" fill="#fff" />
<rect x="313.49" y="236.19" width="2.5" height="2.0" fill="#fff" />
<rect x="319.42" y="236.19" width="2.5" height="2.0" fill="#fff" />
<rect x="325.35" y="236.19" width="2.5" height="2.0" fill="#fff" />
<rect x="206.75" y="242.12" width="2.5" height="2.0" fill="#fff" />
<rect x="212.68" y="242.12" width="2.5" height="2.0" fill="#fff" />
<rect x="218.61" y="242.12" width="2.5" height="2.0" fill="#fff" />
<rect x="224.54" y="242.12" width="2.5" height="2.0" fill="#fff" />
<rect x="307.56" y="242.12" width="2.5" height="2.0" fill="#fff" />
<rect x="313.49" y="242.12" width="2.5" height="2.0" fill="#fff" />
<rect x="319.42" y="242.12" width="2.5" height="2.0" fill="#fff" />
<rect x="325.35" y="242.12" width="2.5" height="2.0" fill="#fff" />
<rect x="206.75" y="248.05" width="2.5" height="2.0" fill="#fff" />
<rect x="212.68" y="248.05" width="2.5" height="2.0" fill="#fff" />
<rect x="218.61" y="248.05" width="2.5" height="2.0" fill="#fff" />
<rect x="224.54" y="248.05" width="2.5" height="2.0" fill="#fff" />
<rect x="307.56" y="248.05" width="2.5" height="2.0" fill="#fff" />
<rect x="313.49" y="248.05" width="2.5" height="2.0" fill="#fff" />
<rect x="319.42" y="248.05" width="2.5" height="2.0" fill="#fff" />
<rect x="325.35" y="248.05" width="2.5" height="2.0" fill="#fff" />
<rect x="206.75" y="253.98" width="2.5" height="2.0" fill="#fff" />
<rect x="212.68" y="253.98" width="2.5" height="2.0" fill="#fff" />
<rect x="218.61" y="253.98" width="2.5" height="2.0" fill="#fff" />
<rect x="224.54" y="253.98" width="2.5" height="2.0" fill="#fff" />
<rect x="230.47" y="253.98" width="2.5" height="2.0" fill="#fff" />
<rect x="307.56" y="253.98" width="2.5" height="2.0" fill="#fff" />
<rect x="313.49" y="253.98" width="2.5" height="2.0" fill="#fff" />
<rect x="319.42" y="253.98" width="2.5" height="2.0" fill="#fff" />
<rect x="325.35" y="253.98" width="2.5" height="2.0" fill="#fff" />
<rect x="206.75" y="259.91" width="2.5" height="2.0" fill="#fff" />
<rect x="212.68" y="259.91" width="2.5" height="2.0" fill="#fff" />
<rect x="218.61" y="259.91" width="2.5" height="2.0" fill="#fff" />
<rect x="224.54" y="259.91" width="2.5" height="2.0" fill="#fff" />
<rect x="230.47" y="259.91" width="2.5" height="2.0" fill="#fff" />
<rect x="236.4" y="259.91" width="2.5" height="2.0" fill="#fff" />
<rect x="242.33" y="259.91" width="2.5" height="2.0" fill="#fff" />
<rect x="248.26" y="259.91" width="2.5" height="2.0" fill="#fff" />
<rect x="254.19" y="259.91" width="2.5" height="2.0" fill="#fff" />
<rect x="260.12" y="259.91" width="2.5" height="2.0" fill="#fff" />
<rect x="266.05" y="259.91" width="2.5" height="2.0" fill="#fff" />
<rect x="271.98" y="259.91" width="2.5" height="2.0" fill="#fff" />
<rect x="277.91" y="259.91" width="2.5" height="2.0" fill="#fff" />
<rect x="283.84" y="259.91" width="2.5" height="2.0" fill="#fff" />
<rect x="289.77" y="259.91" width="2.5" height="2.0" fill="#fff" />
<rect x="295.7" y="259.91" width="2.5" height="2.0" fill="#fff" />
<rect x="301.63" y="259.91" width="2.5" height="2.0" fill="#fff" />
<rect x="307.56" y="259.91" width="2.5" height="2.0" fill="#fff" />
<rect x="313.49" y="259.91" width="2.5" height="2.0" fill="#fff" />
<rect x="319.42" y="259.91" width="2.5" height="2.0" fill="#fff" />
<rect x="325.35" y="259.91" width="2.5" height="2.0" fill="#fff" />
<rect x="206.75" y="265.84" width="2.5" height="2.0" fill="#fff" />
<rect x="212.68" y="265.84" width="2.5" height="2.0" fill="#fff" />
<rect x="218.61" y="265.84" width="2.5" height="2.0" fill="#fff" />
<rect x="224.54" y="265.84" width="2.5" height="2.0" fill="#fff" />
<rect x="230.47" y="265.84" width="2.5" height="2.0" fill="#fff" />
<rect x="236.4" y="265.84" width="2.5" height="2.0" fill="#fff" />
<rect x="242.33" y="265.84" width="2.5" height="2.0" fill="#fff" />
<rect x="248.26" y="265.84" width="2.5" height="2.0" fill="#fff" />
<rect x="254.19" y="265.84" width="2.5" height="2.0" fill="#fff" />
<rect x="260.12" y="265.84" width="2.5" height="2.0" fill="#fff" />
<rect x="266.05" y="265.84" width="2.5" height="2.0" fill="#fff" />
<rect x="271.98" y="265.84" width="2.5" height="2.0" fill="#fff" />
<rect x="277.91" y="265.84" width="2.5" height="2.0" fill="#fff" />
<rect x="283.84" y="265.84" width="2.5" height="2.0" fill="#fff" />
<rect x="289.77" y="265.84" width="2.5" height="2.0" fill="#fff" />
<rect x="295.7" y="265.84" width="2.5" height="2.0" fill="#fff" />
<rect x="301.63" y="265.84" width="2.5" height="2.0" fill="#fff" />
<rect x="307.56" y="265.84" width="2.5" height="2.0" fill="#fff" />
<rect x="313.49" y="265.84" width="2.5" height="2.0" fill="#fff" />
<rect x="319.42" y="265.84" width="2.5" height="2.0" fill="#fff" />
<rect x="325.35" y="265.84" width="2.5" height="2.0" fill="#fff" />
<rect x="206.75" y="271.77" width="2.5" height="2.0" fill="#fff" />
<rect x="212.68" y="271.77" width="2.5" height="2.0" fill="#fff" />
<rect x="218.61" y="271.77" width="2.5" height="2.0" fill="#fff" />
<rect x="224.54" y="271.77" width="2.5" height="2.0" fill="#fff" />
<rect x="230.47" y="271.77" width="2.5" height="2.0" fill="#fff" />
<rect x="236.4" y="271.77" width="2.5" height="2.0" fill="#fff" />
<rect x="242.33" y="271.77" width="2.5" height="2.0" fill="#fff" />
<rect x="248.26" y="271.77" width="2.5" height="2.0" fill="#fff" />
<rect x="254.19" y="271.77" width="2.5" height="2.0" fill="#fff" />
<rect x="260.12" y="271.77" width="2.5" height="2.0" fill="#fff" />
<rect x="266.05" y="271.77" width="2.5" height="2.0" fill="#fff" />
<rect x="271.98" y="271.77" width="2.5" height="2.0" fill="#fff" />
<rect x="277.91" y="271.77" width="2.5" height="2.0" fill="#fff" />
<rect x="283.84" y="271.77" width="2.5" height="2.0" fill="#fff" />
<rect x="289.77" y="271.77" width="2.5" height="2.0" fill="#fff" />
<rect x="295.7" y="271.77" width="2.5" height="2.0" fill="#fff" />
<rect x="301.63" y="271.77" width="2.5" height="2.0" fill="#fff" />
<rect x="307.56" y="271.77" width="2.5" height="2.0" fill="#fff" />
<rect x="313.49" y="271.77" width="2.5" height="2.0" fill="#fff" />
<rect x="319.42" y="271.77" width="2.5" height="2.0" fill="#fff" />
<rect x="325.35" y="271.77" width="2.5" height="2.0" fill="#fff" />
<rect x="206.75" y="277.7" width="2.5" height="2.0" fill="#fff" />
<rect x="212.68" y="277.7" width="2.5" height="2.0" fill="#fff" />
<rect x="218.61" y="277.7" width="2.5" height="2.0" fill="#fff" />
<rect x="224.54" y="277.7" width="2.5" height="2.0" fill="#fff" />
<rect x="230.47" y="277.7" width="2.5" height="2.0" fill="#fff" />
<rect x="236.4" y="277.7" width="2.5" height="2.0" fill="#fff" />
<rect x="242.33" y="277.7" width="2.5" height="2.0" fill="#fff" />
<rect x="248.26" y="277.7" width="2.5" height="2.0" fill="#fff" />
<rect x="254.19" y="277.7" width="2.5" height="2.0" fill="#fff" />
<rect x="260.12" y="277.7" width="2.5" height="2.0" fill="#fff" />
<rect x="266.05" y="277.7" width="2.5" height="2.0" fill="#fff" />
<rect x="271.98" y="277.7" width="2.5" height="2.0" fill="#fff" />
<rect x="277.91" y="277.7" width="2.5" height="2.0" fill="#fff" />
<rect x="283.84" y="277.7" width="2.5" height="2.0" fill="#fff" />
<rect x="289.77" y="277.7" width="2.5" height="2.0" fill="#fff" />
<rect x="295.7" y="277.7" width="2.5" height="2.0" fill="#fff" />
<rect x="301.63" y="277.7" width="2.5" height="2.0" fill="#fff" />
<rect x="307.56" y="277.7" width="2.5" height="2.0" fill="#fff" />
<rect x="313.49" y="277.7" width="2.5" height="2.0" fill="#fff" />
<rect x="319.42" y="277.7" width="2.5" height="2.0" fill="#fff" />
<rect x="325.35" y="277.7" width="2.5" height="2.0" fill="#fff" />
<rect x="335" y="161.5" width="4" height="27.5" fill="#fff" stroke="#000" stroke-width="1.4" rx="1.5"/>
<rect x="333.5" y="181.5" width="2.5" height="7.5" fill="#000" />
<rect x="335" y="263.5" width="4" height="27.5" fill="#fff" stroke="#000" stroke-width="1.4" rx="1.5"/>
<rect x="333.5" y="283.5" width="2.5" height="7.5" fill="#000" />
<rect x="204.5" y="285.5" width="129.5" height="1.5" fill="#000" />
<rect x="204.5" y="288" width="129.5" height="17" fill="#000" />
<rect x="204.5" y="306.5" width="127.0" height="2.0" fill="#000" />
<rect x="256.5" y="291" width="33.5" height="6" fill="#fff" />
<rect x="256.5" y="298.8" width="33.5" height="3.8" fill="#fff" />
<text x="294.5" y="303" font-size="14.5" letter-spacing="1.3" fill="#fff">AMP</text>
<rect x="251" y="211" width="36" height="18" rx="3.5" ry="3.5" fill="#000" shape-rendering="auto"/>
<rect x="252.7" y="212.7" width="32.1" height="14.1" rx="2" ry="2" fill="#fff" shape-rendering="auto"/>
<text x="268.5" y="223.82" font-size="12" letter-spacing="1.6" text-anchor="middle">CPU</text>
<polygon points="359.04,204.5 361.5,198.89 363.96,204.5" fill="#fff" stroke="#000" stroke-width="1.9" stroke-linejoin="miter" shape-rendering="auto"/>
<line x1="361.5" y1="198.89" x2="361.5" y2="187.5" stroke="#000" stroke-width="4" shape-rendering="auto"/>
<rect x="346" y="203" width="33" height="19" rx="3.5" ry="3.5" fill="#000" shape-rendering="auto"/>
<rect x="347.7" y="204.7" width="29.1" height="15.1" rx="2" ry="2" fill="#fff" shape-rendering="auto"/>
<text x="362.0" y="216.32" font-size="12" letter-spacing="0.8" text-anchor="middle">W21</text>
<rect x="358" y="174" width="7" height="13.7" fill="#000" />
<rect x="359" y="175" width="1" height="11.7" fill="#fff" />
<rect x="359" y="175" width="5" height="1" fill="#fff" />
<rect x="359" y="185.7" width="5" height="1.0" fill="#fff" />
<rect x="359" y="180.3" width="5" height="1.0" fill="#fff" />
<rect x="362" y="247" width="21.5" height="38.5" fill="#fff" stroke="#000" stroke-width="1.8"/>
<circle cx="363.5" cy="249" r="1.2" fill="#fff" stroke="#000" stroke-width="0.6"/>
<circle cx="381.5" cy="249" r="1.2" fill="#fff" stroke="#000" stroke-width="0.6"/>
<circle cx="363.5" cy="283" r="1.2" fill="#fff" stroke="#000" stroke-width="0.6"/>
<circle cx="381.5" cy="283" r="1.2" fill="#fff" stroke="#000" stroke-width="0.6"/>
<polygon points="408,119 465.5,119 468.5,120 469.5,123 469.5,180 468.5,183 465.5,184 408,184 405,183 404,180 404,123 405,120" fill="#000"/>
<rect x="417.0" y="119" width="1.0" height="3" fill="#fff" />
<rect x="419.0" y="181" width="1.0" height="3" fill="#fff" />
<rect x="404" y="133.0" width="3" height="1.0" fill="#fff" />
<rect x="466.5" y="130.0" width="3.0" height="1.0" fill="#fff" />
<rect x="420.0" y="119" width="1.0" height="3" fill="#fff" />
<rect x="422.0" y="181" width="1.0" height="3" fill="#fff" />
<rect x="404" y="136.0" width="3" height="1.0" fill="#fff" />
<rect x="466.5" y="133.0" width="3.0" height="1.0" fill="#fff" />
<rect x="423.0" y="119" width="1.0" height="3" fill="#fff" />
<rect x="425.0" y="181" width="1.0" height="3" fill="#fff" />
<rect x="404" y="139.0" width="3" height="1.0" fill="#fff" />
<rect x="466.5" y="136.0" width="3.0" height="1.0" fill="#fff" />
<rect x="428.375" y="119" width="1.0" height="3" fill="#fff" />
<rect x="430.375" y="181" width="1.0" height="3" fill="#fff" />
<rect x="404" y="144.375" width="3" height="1.0" fill="#fff" />
<rect x="466.5" y="141.375" width="3.0" height="1.0" fill="#fff" />
<rect x="431.375" y="119" width="1.0" height="3" fill="#fff" />
<rect x="433.375" y="181" width="1.0" height="3" fill="#fff" />
<rect x="404" y="147.375" width="3" height="1.0" fill="#fff" />
<rect x="466.5" y="144.375" width="3.0" height="1.0" fill="#fff" />
<rect x="434.375" y="119" width="1.0" height="3" fill="#fff" />
<rect x="436.375" y="181" width="1.0" height="3" fill="#fff" />
<rect x="404" y="150.375" width="3" height="1.0" fill="#fff" />
<rect x="466.5" y="147.375" width="3.0" height="1.0" fill="#fff" />
<rect x="439.75" y="119" width="1.0" height="3" fill="#fff" />
<rect x="441.75" y="181" width="1.0" height="3" fill="#fff" />
<rect x="404" y="155.75" width="3" height="1.0" fill="#fff" />
<rect x="466.5" y="152.75" width="3.0" height="1.0" fill="#fff" />
<rect x="442.75" y="119" width="1.0" height="3" fill="#fff" />
<rect x="444.75" y="181" width="1.0" height="3" fill="#fff" />
<rect x="404" y="158.75" width="3" height="1.0" fill="#fff" />
<rect x="466.5" y="155.75" width="3.0" height="1.0" fill="#fff" />
<rect x="445.75" y="119" width="1.0" height="3" fill="#fff" />
<rect x="447.75" y="181" width="1.0" height="3" fill="#fff" />
<rect x="404" y="161.75" width="3" height="1.0" fill="#fff" />
<rect x="466.5" y="158.75" width="3.0" height="1.0" fill="#fff" />
<rect x="451.125" y="119" width="1.0" height="3" fill="#fff" />
<rect x="453.125" y="181" width="1.0" height="3" fill="#fff" />
<rect x="404" y="167.125" width="3" height="1.0" fill="#fff" />
<rect x="466.5" y="164.125" width="3.0" height="1.0" fill="#fff" />
<rect x="454.125" y="119" width="1.0" height="3" fill="#fff" />
<rect x="456.125" y="181" width="1.0" height="3" fill="#fff" />
<rect x="404" y="170.125" width="3" height="1.0" fill="#fff" />
<rect x="466.5" y="167.125" width="3.0" height="1.0" fill="#fff" />
<rect x="457.125" y="119" width="1.0" height="3" fill="#fff" />
<rect x="459.125" y="181" width="1.0" height="3" fill="#fff" />
<rect x="404" y="173.125" width="3" height="1.0" fill="#fff" />
<rect x="466.5" y="170.125" width="3.0" height="1.0" fill="#fff" />
<polygon points="409,209 467,209 470,210 471,213 471,270 470,273 467,274 409,274 406,273 405,270 405,213 406,210" fill="#000"/>
<rect x="418.0" y="209" width="1.0" height="3" fill="#fff" />
<rect x="420.0" y="271" width="1.0" height="3" fill="#fff" />
<rect x="405" y="223.0" width="3" height="1.0" fill="#fff" />
<rect x="468" y="220.0" width="3" height="1.0" fill="#fff" />
<rect x="421.0" y="209" width="1.0" height="3" fill="#fff" />
<rect x="423.0" y="271" width="1.0" height="3" fill="#fff" />
<rect x="405" y="226.0" width="3" height="1.0" fill="#fff" />
<rect x="468" y="223.0" width="3" height="1.0" fill="#fff" />
<rect x="424.0" y="209" width="1.0" height="3" fill="#fff" />
<rect x="426.0" y="271" width="1.0" height="3" fill="#fff" />
<rect x="405" y="229.0" width="3" height="1.0" fill="#fff" />
<rect x="468" y="226.0" width="3" height="1.0" fill="#fff" />
<rect x="429.5" y="209" width="1.0" height="3" fill="#fff" />
<rect x="431.5" y="271" width="1.0" height="3" fill="#fff" />
<rect x="405" y="234.5" width="3" height="1.0" fill="#fff" />
<rect x="468" y="231.5" width="3" height="1.0" fill="#fff" />
<rect x="432.5" y="209" width="1.0" height="3" fill="#fff" />
<rect x="434.5" y="271" width="1.0" height="3" fill="#fff" />
<rect x="405" y="237.5" width="3" height="1.0" fill="#fff" />
<rect x="468" y="234.5" width="3" height="1.0" fill="#fff" />
<rect x="435.5" y="209" width="1.0" height="3" fill="#fff" />
<rect x="437.5" y="271" width="1.0" height="3" fill="#fff" />
<rect x="405" y="240.5" width="3" height="1.0" fill="#fff" />
<rect x="468" y="237.5" width="3" height="1.0" fill="#fff" />
<rect x="441.0" y="209" width="1.0" height="3" fill="#fff" />
<rect x="443.0" y="271" width="1.0" height="3" fill="#fff" />
<rect x="405" y="246.0" width="3" height="1.0" fill="#fff" />
<rect x="468" y="243.0" width="3" height="1.0" fill="#fff" />
<rect x="444.0" y="209" width="1.0" height="3" fill="#fff" />
<rect x="446.0" y="271" width="1.0" height="3" fill="#fff" />
<rect x="405" y="249.0" width="3" height="1.0" fill="#fff" />
<rect x="468" y="246.0" width="3" height="1.0" fill="#fff" />
<rect x="447.0" y="209" width="1.0" height="3" fill="#fff" />
<rect x="449.0" y="271" width="1.0" height="3" fill="#fff" />
<rect x="405" y="252.0" width="3" height="1.0" fill="#fff" />
<rect x="468" y="249.0" width="3" height="1.0" fill="#fff" />
<rect x="452.5" y="209" width="1.0" height="3" fill="#fff" />
<rect x="454.5" y="271" width="1.0" height="3" fill="#fff" />
<rect x="405" y="257.5" width="3" height="1.0" fill="#fff" />
<rect x="468" y="254.5" width="3" height="1.0" fill="#fff" />
<rect x="455.5" y="209" width="1.0" height="3" fill="#fff" />
<rect x="457.5" y="271" width="1.0" height="3" fill="#fff" />
<rect x="405" y="260.5" width="3" height="1.0" fill="#fff" />
<rect x="468" y="257.5" width="3" height="1.0" fill="#fff" />
<rect x="458.5" y="209" width="1.0" height="3" fill="#fff" />
<rect x="460.5" y="271" width="1.0" height="3" fill="#fff" />
<rect x="405" y="263.5" width="3" height="1.0" fill="#fff" />
<rect x="468" y="260.5" width="3" height="1.0" fill="#fff" />
<polygon points="311,408.5 369.5,408.5 372.5,409.5 373.5,412.5 373.5,471 372.5,474 369.5,475 311,475 308,474 307,471 307,412.5 308,409.5" fill="#000"/>
<rect x="320.0" y="408.5" width="1.0" height="3.0" fill="#fff" />
<rect x="322.0" y="472" width="1.0" height="3" fill="#fff" />
<rect x="307" y="422.5" width="3" height="1.0" fill="#fff" />
<rect x="370.5" y="419.5" width="3.0" height="1.0" fill="#fff" />
<rect x="323.0" y="408.5" width="1.0" height="3.0" fill="#fff" />
<rect x="325.0" y="472" width="1.0" height="3" fill="#fff" />
<rect x="307" y="425.5" width="3" height="1.0" fill="#fff" />
<rect x="370.5" y="422.5" width="3.0" height="1.0" fill="#fff" />
<rect x="326.0" y="408.5" width="1.0" height="3.0" fill="#fff" />
<rect x="328.0" y="472" width="1.0" height="3" fill="#fff" />
<rect x="307" y="428.5" width="3" height="1.0" fill="#fff" />
<rect x="370.5" y="425.5" width="3.0" height="1.0" fill="#fff" />
<rect x="331.625" y="408.5" width="1.0" height="3.0" fill="#fff" />
<rect x="333.625" y="472" width="1.0" height="3" fill="#fff" />
<rect x="307" y="434.125" width="3" height="1.0" fill="#fff" />
<rect x="370.5" y="431.125" width="3.0" height="1.0" fill="#fff" />
<rect x="334.625" y="408.5" width="1.0" height="3.0" fill="#fff" />
<rect x="336.625" y="472" width="1.0" height="3" fill="#fff" />
<rect x="307" y="437.125" width="3" height="1.0" fill="#fff" />
<rect x="370.5" y="434.125" width="3.0" height="1.0" fill="#fff" />
<rect x="337.625" y="408.5" width="1.0" height="3.0" fill="#fff" />
<rect x="339.625" y="472" width="1.0" height="3" fill="#fff" />
<rect x="307" y="440.125" width="3" height="1.0" fill="#fff" />
<rect x="370.5" y="437.125" width="3.0" height="1.0" fill="#fff" />
<rect x="343.25" y="408.5" width="1.0" height="3.0" fill="#fff" />
<rect x="345.25" y="472" width="1.0" height="3" fill="#fff" />
<rect x="307" y="445.75" width="3" height="1.0" fill="#fff" />
<rect x="370.5" y="442.75" width="3.0" height="1.0" fill="#fff" />
<rect x="346.25" y="408.5" width="1.0" height="3.0" fill="#fff" />
<rect x="348.25" y="472" width="1.0" height="3" fill="#fff" />
<rect x="307" y="448.75" width="3" height="1.0" fill="#fff" />
<rect x="370.5" y="445.75" width="3.0" height="1.0" fill="#fff" />
<rect x="349.25" y="408.5" width="1.0" height="3.0" fill="#fff" />
<rect x="351.25" y="472" width="1.0" height="3" fill="#fff" />
<rect x="307" y="451.75" width="3" height="1.0" fill="#fff" />
<rect x="370.5" y="448.75" width="3.0" height="1.0" fill="#fff" />
<rect x="354.875" y="408.5" width="1.0" height="3.0" fill="#fff" />
<rect x="356.875" y="472" width="1.0" height="3" fill="#fff" />
<rect x="307" y="457.375" width="3" height="1.0" fill="#fff" />
<rect x="370.5" y="454.375" width="3.0" height="1.0" fill="#fff" />
<rect x="357.875" y="408.5" width="1.0" height="3.0" fill="#fff" />
<rect x="359.875" y="472" width="1.0" height="3" fill="#fff" />
<rect x="307" y="460.375" width="3" height="1.0" fill="#fff" />
<rect x="370.5" y="457.375" width="3.0" height="1.0" fill="#fff" />
<rect x="360.875" y="408.5" width="1.0" height="3.0" fill="#fff" />
<rect x="362.875" y="472" width="1.0" height="3" fill="#fff" />
<rect x="307" y="463.375" width="3" height="1.0" fill="#fff" />
<rect x="370.5" y="460.375" width="3.0" height="1.0" fill="#fff" />
<polygon points="175,446.5 233.5,446.5 236.5,447.5 237.5,450.5 237.5,509 236.5,512 233.5,513 175,513 172,512 171,509 171,450.5 172,447.5" fill="#000"/>
<rect x="184.0" y="446.5" width="1.0" height="3.0" fill="#fff" />
<rect x="186.0" y="510" width="1.0" height="3" fill="#fff" />
<rect x="171" y="460.5" width="3" height="1.0" fill="#fff" />
<rect x="234.5" y="457.5" width="3.0" height="1.0" fill="#fff" />
<rect x="187.0" y="446.5" width="1.0" height="3.0" fill="#fff" />
<rect x="189.0" y="510" width="1.0" height="3" fill="#fff" />
<rect x="171" y="463.5" width="3" height="1.0" fill="#fff" />
<rect x="234.5" y="460.5" width="3.0" height="1.0" fill="#fff" />
<rect x="190.0" y="446.5" width="1.0" height="3.0" fill="#fff" />
<rect x="192.0" y="510" width="1.0" height="3" fill="#fff" />
<rect x="171" y="466.5" width="3" height="1.0" fill="#fff" />
<rect x="234.5" y="463.5" width="3.0" height="1.0" fill="#fff" />
<rect x="195.625" y="446.5" width="1.0" height="3.0" fill="#fff" />
<rect x="197.625" y="510" width="1.0" height="3" fill="#fff" />
<rect x="171" y="472.125" width="3" height="1.0" fill="#fff" />
<rect x="234.5" y="469.125" width="3.0" height="1.0" fill="#fff" />
<rect x="198.625" y="446.5" width="1.0" height="3.0" fill="#fff" />
<rect x="200.625" y="510" width="1.0" height="3" fill="#fff" />
<rect x="171" y="475.125" width="3" height="1.0" fill="#fff" />
<rect x="234.5" y="472.125" width="3.0" height="1.0" fill="#fff" />
<rect x="201.625" y="446.5" width="1.0" height="3.0" fill="#fff" />
<rect x="203.625" y="510" width="1.0" height="3" fill="#fff" />
<rect x="171" y="478.125" width="3" height="1.0" fill="#fff" />
<rect x="234.5" y="475.125" width="3.0" height="1.0" fill="#fff" />
<rect x="207.25" y="446.5" width="1.0" height="3.0" fill="#fff" />
<rect x="209.25" y="510" width="1.0" height="3" fill="#fff" />
<rect x="171" y="483.75" width="3" height="1.0" fill="#fff" />
<rect x="234.5" y="480.75" width="3.0" height="1.0" fill="#fff" />
<rect x="210.25" y="446.5" width="1.0" height="3.0" fill="#fff" />
<rect x="212.25" y="510" width="1.0" height="3" fill="#fff" />
<rect x="171" y="486.75" width="3" height="1.0" fill="#fff" />
<rect x="234.5" y="483.75" width="3.0" height="1.0" fill="#fff" />
<rect x="213.25" y="446.5" width="1.0" height="3.0" fill="#fff" />
<rect x="215.25" y="510" width="1.0" height="3" fill="#fff" />
<rect x="171" y="489.75" width="3" height="1.0" fill="#fff" />
<rect x="234.5" y="486.75" width="3.0" height="1.0" fill="#fff" />
<rect x="218.875" y="446.5" width="1.0" height="3.0" fill="#fff" />
<rect x="220.875" y="510" width="1.0" height="3" fill="#fff" />
<rect x="171" y="495.375" width="3" height="1.0" fill="#fff" />
<rect x="234.5" y="492.375" width="3.0" height="1.0" fill="#fff" />
<rect x="221.875" y="446.5" width="1.0" height="3.0" fill="#fff" />
<rect x="223.875" y="510" width="1.0" height="3" fill="#fff" />
<rect x="171" y="498.375" width="3" height="1.0" fill="#fff" />
<rect x="234.5" y="495.375" width="3.0" height="1.0" fill="#fff" />
<rect x="224.875" y="446.5" width="1.0" height="3.0" fill="#fff" />
<rect x="226.875" y="510" width="1.0" height="3" fill="#fff" />
<rect x="171" y="501.375" width="3" height="1.0" fill="#fff" />
<rect x="234.5" y="498.375" width="3.0" height="1.0" fill="#fff" />
<polygon points="256,521 314.5,521 317.5,522 318.5,525 318.5,583 317.5,586 314.5,587 256,587 253,586 252,583 252,525 253,522" fill="#000"/>
<rect x="265.0" y="521" width="1.0" height="3" fill="#fff" />
<rect x="267.0" y="584" width="1.0" height="3" fill="#fff" />
<rect x="252" y="535.0" width="3" height="1.0" fill="#fff" />
<rect x="315.5" y="532.0" width="3.0" height="1.0" fill="#fff" />
<rect x="268.0" y="521" width="1.0" height="3" fill="#fff" />
<rect x="270.0" y="584" width="1.0" height="3" fill="#fff" />
<rect x="252" y="538.0" width="3" height="1.0" fill="#fff" />
<rect x="315.5" y="535.0" width="3.0" height="1.0" fill="#fff" />
<rect x="271.0" y="521" width="1.0" height="3" fill="#fff" />
<rect x="273.0" y="584" width="1.0" height="3" fill="#fff" />
<rect x="252" y="541.0" width="3" height="1.0" fill="#fff" />
<rect x="315.5" y="538.0" width="3.0" height="1.0" fill="#fff" />
<rect x="276.625" y="521" width="1.0" height="3" fill="#fff" />
<rect x="278.625" y="584" width="1.0" height="3" fill="#fff" />
<rect x="252" y="546.625" width="3" height="1.0" fill="#fff" />
<rect x="315.5" y="543.625" width="3.0" height="1.0" fill="#fff" />
<rect x="279.625" y="521" width="1.0" height="3" fill="#fff" />
<rect x="281.625" y="584" width="1.0" height="3" fill="#fff" />
<rect x="252" y="549.625" width="3" height="1.0" fill="#fff" />
<rect x="315.5" y="546.625" width="3.0" height="1.0" fill="#fff" />
<rect x="282.625" y="521" width="1.0" height="3" fill="#fff" />
<rect x="284.625" y="584" width="1.0" height="3" fill="#fff" />
<rect x="252" y="552.625" width="3" height="1.0" fill="#fff" />
<rect x="315.5" y="549.625" width="3.0" height="1.0" fill="#fff" />
<rect x="288.25" y="521" width="1.0" height="3" fill="#fff" />
<rect x="290.25" y="584" width="1.0" height="3" fill="#fff" />
<rect x="252" y="558.25" width="3" height="1.0" fill="#fff" />
<rect x="315.5" y="555.25" width="3.0" height="1.0" fill="#fff" />
<rect x="291.25" y="521" width="1.0" height="3" fill="#fff" />
<rect x="293.25" y="584" width="1.0" height="3" fill="#fff" />
<rect x="252" y="561.25" width="3" height="1.0" fill="#fff" />
<rect x="315.5" y="558.25" width="3.0" height="1.0" fill="#fff" />
<rect x="294.25" y="521" width="1.0" height="3" fill="#fff" />
<rect x="296.25" y="584" width="1.0" height="3" fill="#fff" />
<rect x="252" y="564.25" width="3" height="1.0" fill="#fff" />
<rect x="315.5" y="561.25" width="3.0" height="1.0" fill="#fff" />
<rect x="299.875" y="521" width="1.0" height="3" fill="#fff" />
<rect x="301.875" y="584" width="1.0" height="3" fill="#fff" />
<rect x="252" y="569.875" width="3" height="1.0" fill="#fff" />
<rect x="315.5" y="566.875" width="3.0" height="1.0" fill="#fff" />
<rect x="302.875" y="521" width="1.0" height="3" fill="#fff" />
<rect x="304.875" y="584" width="1.0" height="3" fill="#fff" />
<rect x="252" y="572.875" width="3" height="1.0" fill="#fff" />
<rect x="315.5" y="569.875" width="3.0" height="1.0" fill="#fff" />
<rect x="305.875" y="521" width="1.0" height="3" fill="#fff" />
<rect x="307.875" y="584" width="1.0" height="3" fill="#fff" />
<rect x="252" y="575.875" width="3" height="1.0" fill="#fff" />
<rect x="315.5" y="572.875" width="3.0" height="1.0" fill="#fff" />
<polygon points="295,620 353.5,620 356.5,621 357.5,624 357.5,682 356.5,685 353.5,686 295,686 292,685 291,682 291,624 292,621" fill="#000"/>
<rect x="304.0" y="620" width="1.0" height="3" fill="#fff" />
<rect x="306.0" y="683" width="1.0" height="3" fill="#fff" />
<rect x="291" y="634.0" width="3" height="1.0" fill="#fff" />
<rect x="354.5" y="631.0" width="3.0" height="1.0" fill="#fff" />
<rect x="307.0" y="620" width="1.0" height="3" fill="#fff" />
<rect x="309.0" y="683" width="1.0" height="3" fill="#fff" />
<rect x="291" y="637.0" width="3" height="1.0" fill="#fff" />
<rect x="354.5" y="634.0" width="3.0" height="1.0" fill="#fff" />
<rect x="310.0" y="620" width="1.0" height="3" fill="#fff" />
<rect x="312.0" y="683" width="1.0" height="3" fill="#fff" />
<rect x="291" y="640.0" width="3" height="1.0" fill="#fff" />
<rect x="354.5" y="637.0" width="3.0" height="1.0" fill="#fff" />
<rect x="315.625" y="620" width="1.0" height="3" fill="#fff" />
<rect x="317.625" y="683" width="1.0" height="3" fill="#fff" />
<rect x="291" y="645.625" width="3" height="1.0" fill="#fff" />
<rect x="354.5" y="642.625" width="3.0" height="1.0" fill="#fff" />
<rect x="318.625" y="620" width="1.0" height="3" fill="#fff" />
<rect x="320.625" y="683" width="1.0" height="3" fill="#fff" />
<rect x="291" y="648.625" width="3" height="1.0" fill="#fff" />
<rect x="354.5" y="645.625" width="3.0" height="1.0" fill="#fff" />
<rect x="321.625" y="620" width="1.0" height="3" fill="#fff" />
<rect x="323.625" y="683" width="1.0" height="3" fill="#fff" />
<rect x="291" y="651.625" width="3" height="1.0" fill="#fff" />
<rect x="354.5" y="648.625" width="3.0" height="1.0" fill="#fff" />
<rect x="327.25" y="620" width="1.0" height="3" fill="#fff" />
<rect x="329.25" y="683" width="1.0" height="3" fill="#fff" />
<rect x="291" y="657.25" width="3" height="1.0" fill="#fff" />
<rect x="354.5" y="654.25" width="3.0" height="1.0" fill="#fff" />
<rect x="330.25" y="620" width="1.0" height="3" fill="#fff" />
<rect x="332.25" y="683" width="1.0" height="3" fill="#fff" />
<rect x="291" y="660.25" width="3" height="1.0" fill="#fff" />
<rect x="354.5" y="657.25" width="3.0" height="1.0" fill="#fff" />
<rect x="333.25" y="620" width="1.0" height="3" fill="#fff" />
<rect x="335.25" y="683" width="1.0" height="3" fill="#fff" />
<rect x="291" y="663.25" width="3" height="1.0" fill="#fff" />
<rect x="354.5" y="660.25" width="3.0" height="1.0" fill="#fff" />
<rect x="338.875" y="620" width="1.0" height="3" fill="#fff" />
<rect x="340.875" y="683" width="1.0" height="3" fill="#fff" />
<rect x="291" y="668.875" width="3" height="1.0" fill="#fff" />
<rect x="354.5" y="665.875" width="3.0" height="1.0" fill="#fff" />
<rect x="341.875" y="620" width="1.0" height="3" fill="#fff" />
<rect x="343.875" y="683" width="1.0" height="3" fill="#fff" />
<rect x="291" y="671.875" width="3" height="1.0" fill="#fff" />
<rect x="354.5" y="668.875" width="3.0" height="1.0" fill="#fff" />
<rect x="344.875" y="620" width="1.0" height="3" fill="#fff" />
<rect x="346.875" y="683" width="1.0" height="3" fill="#fff" />
<rect x="291" y="674.875" width="3" height="1.0" fill="#fff" />
<rect x="354.5" y="671.875" width="3.0" height="1.0" fill="#fff" />
<rect x="505" y="28" width="338" height="23" fill="#000" />
<rect x="513" y="36" width="120" height="7" fill="#fff" />
<rect x="642.5" y="36" width="194.0" height="7" fill="#fff" />
<rect x="505" y="72" width="338" height="23.5" fill="#000" />
<rect x="513" y="80" width="120" height="7.5" fill="#fff" />
<rect x="642.5" y="80" width="194.0" height="7.5" fill="#fff" />
<rect x="505" y="116" width="338" height="23" fill="#000" />
<rect x="513" y="124" width="120" height="7" fill="#fff" />
<rect x="642.5" y="124" width="194.0" height="7" fill="#fff" />
<rect x="505" y="159.5" width="338" height="23.5" fill="#000" />
<rect x="513" y="167" width="120" height="8" fill="#fff" />
<rect x="642.5" y="167" width="194.0" height="8" fill="#fff" />
<rect x="505" y="204" width="338" height="23" fill="#000" />
<rect x="513" y="212" width="120" height="7" fill="#fff" />
<rect x="642.5" y="212" width="194.0" height="7" fill="#fff" />
<rect x="505" y="247" width="338" height="23.5" fill="#000" />
<rect x="513" y="255" width="120" height="8" fill="#fff" />
<rect x="642.5" y="255" width="194.0" height="8" fill="#fff" />
<text x="700.5" y="64" font-size="11" letter-spacing="0.5">MH1945</text>
<rect x="594" y="282" width="177" height="19" fill="#000" />
<rect x="601" y="289" width="34" height="6" fill="#fff" />
<rect x="643.5" y="289" width="120.5" height="6" fill="#fff" />
<rect x="666" y="283.5" width="33" height="16.80000000000001" rx="3" fill="#000" shape-rendering="auto"/>
<rect x="668" y="285" width="29" height="13.8" rx="2.5" fill="#fff" shape-rendering="auto"/>
<text x="682.5" y="296.2" font-size="12" letter-spacing="0.8" text-anchor="middle">J30</text>
<rect x="594" y="307" width="177" height="19" fill="#000" />
<rect x="601" y="313.5" width="34" height="6.0" fill="#fff" />
<rect x="643.5" y="313.5" width="120.5" height="6.0" fill="#fff" />
<rect x="670" y="307.5" width="25" height="17.80000000000001" rx="3" fill="#000" shape-rendering="auto"/>
<rect x="672" y="309" width="21" height="14.8" rx="2.5" fill="#fff" shape-rendering="auto"/>
<text x="682.5" y="320.7" font-size="12" letter-spacing="0.8" text-anchor="middle">S1</text>
<rect x="594" y="332" width="177" height="18.5" fill="#000" />
<rect x="601" y="338.5" width="34" height="6.0" fill="#fff" />
<rect x="643.5" y="338.5" width="120.5" height="6.0" fill="#fff" />
<rect x="670" y="335.5" width="25" height="17.19999999999999" rx="3" fill="#000" shape-rendering="auto"/>
<rect x="672" y="337" width="21" height="14.2" rx="2.5" fill="#fff" shape-rendering="auto"/>
<text x="682.5" y="348.4" font-size="12" letter-spacing="0.8" text-anchor="middle">S0</text>
<rect x="435.5" y="48" width="30.5" height="13" fill="#000" />
<rect x="441.7" y="49.5" width="1.0" height="10.0" fill="#fff" />
<rect x="447.4" y="49.5" width="1.0" height="10.0" fill="#fff" />
<rect x="453.1" y="49.5" width="1.0" height="10.0" fill="#fff" />
<rect x="458.8" y="49.5" width="1.0" height="10.0" fill="#fff" />
<rect x="437.0" y="54.0" width="27.5" height="1.0" fill="#fff" />
<rect x="436.5" y="49" width="28.5" height="1" fill="#fff" />
<rect x="436.5" y="49" width="1.0" height="11" fill="#fff" />
<rect x="460.8" y="50.5" width="2.7" height="2.5" fill="#fff" />
<polygon points="448.04,78.0 450.5,70.35 452.96,78.0" fill="#fff" stroke="#000" stroke-width="1.9" stroke-linejoin="miter" shape-rendering="auto"/>
<line x1="450.5" y1="70.35" x2="450.5" y2="61" stroke="#000" stroke-width="3" shape-rendering="auto"/>
<rect x="434" y="77" width="34" height="18" rx="3.5" ry="3.5" fill="#000" shape-rendering="auto"/>
<rect x="435.7" y="78.7" width="30.1" height="14.1" rx="2" ry="2" fill="#fff" shape-rendering="auto"/>
<text x="450.5" y="89.82" font-size="12" letter-spacing="0.6" text-anchor="middle">W17</text>
<polygon points="541.0,337.68 551.2,340.78 541.0,343.82" fill="#fff" stroke="#000" stroke-width="1.9" stroke-linejoin="miter" shape-rendering="auto"/>
<line x1="551.2" y1="340.78" x2="556" y2="340.8" stroke="#000" stroke-width="3" shape-rendering="auto"/>
<rect x="506" y="331" width="36.5" height="19" rx="3.5" ry="3.5" fill="#000" shape-rendering="auto"/>
<rect x="507.7" y="332.7" width="32.6" height="15.1" rx="2" ry="2" fill="#fff" shape-rendering="auto"/>
<text x="523.75" y="344.32" font-size="12" letter-spacing="0.8" text-anchor="middle">W20</text>
<rect x="556" y="334" width="7.5" height="14" fill="#000" />
<rect x="557" y="335" width="1" height="12" fill="#fff" />
<rect x="557" y="335" width="5.5" height="1" fill="#fff" />
<rect x="557" y="346" width="5.5" height="1" fill="#fff" />
<rect x="557" y="340.5" width="5.5" height="1.0" fill="#fff" />
<polygon points="823.0,345.81 833.2,349.84 823.0,353.19" fill="#fff" stroke="#000" stroke-width="1.9" stroke-linejoin="miter" shape-rendering="auto"/>
<line x1="833.2" y1="349.84" x2="838" y2="350" stroke="#000" stroke-width="3" shape-rendering="auto"/>
<rect x="799" y="341" width="26" height="18" rx="3.5" ry="3.5" fill="#000" shape-rendering="auto"/>
<rect x="800.7" y="342.7" width="22.1" height="14.1" rx="2" ry="2" fill="#fff" shape-rendering="auto"/>
<text x="811.5" y="353.82" font-size="12" letter-spacing="1.2" text-anchor="middle">W8</text>
<rect x="838" y="335" width="6" height="31" fill="#000" />
<rect x="839.5" y="336.5" width="3.0" height="3.0" fill="#fff" />
<rect x="840.4" y="337.5" width="1.2" height="1.0" fill="#000" />
<rect x="839" y="340.2" width="4" height="1.0" fill="#fff" />
<rect x="839" y="345.3" width="4" height="1.0" fill="#fff" />
<rect x="839" y="350.5" width="4" height="1.0" fill="#fff" />
<rect x="839" y="355.7" width="4" height="1.0" fill="#fff" />
<rect x="839" y="360.8" width="4" height="1.0" fill="#fff" />
<polygon points="46.54,286.0 49.13,293.65 51.46,286.0" fill="#fff" stroke="#000" stroke-width="1.9" stroke-linejoin="miter" shape-rendering="auto"/>
<line x1="49.13" y1="293.65" x2="49.3" y2="303" stroke="#000" stroke-width="3" shape-rendering="auto"/>
<rect x="37" y="269.5" width="25" height="18.0" rx="3.5" ry="3.5" fill="#000" shape-rendering="auto"/>
<rect x="38.7" y="271.2" width="21.1" height="14.1" rx="2" ry="2" fill="#fff" shape-rendering="auto"/>
<text x="49.0" y="282.32" font-size="12" letter-spacing="1" text-anchor="middle">J4</text>
<rect x="46" y="303" width="6.6" height="18.8" fill="#000" />
<rect x="47.5" y="304.5" width="3.6" height="3.0" fill="#fff" />
<rect x="48.7" y="305.5" width="1.2" height="1.0" fill="#000" />
<rect x="47" y="307.7" width="4.6" height="1.0" fill="#fff" />
<rect x="47" y="312.4" width="4.6" height="1.0" fill="#fff" />
<rect x="47" y="317.1" width="4.6" height="1.0" fill="#fff" />
<rect x="56" y="303" width="6.2" height="18.8" fill="#000" />
<rect x="57.5" y="304.5" width="3.2" height="3.0" fill="#fff" />
<rect x="58.5" y="305.5" width="1.2" height="1.0" fill="#000" />
<rect x="57" y="307.7" width="4.2" height="1.0" fill="#fff" />
<rect x="57" y="312.4" width="4.2" height="1.0" fill="#fff" />
<rect x="57" y="317.1" width="4.2" height="1.0" fill="#fff" />
<polygon points="88.0,305.63 77.46,308.5 88.0,311.37" fill="#fff" stroke="#000" stroke-width="1.9" stroke-linejoin="miter" shape-rendering="auto"/>
<line x1="77.46" y1="308.5" x2="72.5" y2="308.5" stroke="#000" stroke-width="3" shape-rendering="auto"/>
<rect x="87" y="299" width="26" height="18.5" rx="3.5" ry="3.5" fill="#000" shape-rendering="auto"/>
<rect x="88.7" y="300.7" width="22.1" height="14.6" rx="2" ry="2" fill="#fff" shape-rendering="auto"/>
<text x="99.5" y="312.07" font-size="12" letter-spacing="1" text-anchor="middle">J2</text>
<polygon points="88.0,324.68 77.46,327.24 88.0,330.82" fill="#fff" stroke="#000" stroke-width="1.9" stroke-linejoin="miter" shape-rendering="auto"/>
<line x1="77.46" y1="327.24" x2="72.5" y2="327" stroke="#000" stroke-width="3" shape-rendering="auto"/>
<rect x="87" y="319" width="26" height="18" rx="3.5" ry="3.5" fill="#000" shape-rendering="auto"/>
<rect x="88.7" y="320.7" width="22.1" height="14.1" rx="2" ry="2" fill="#fff" shape-rendering="auto"/>
<text x="99.5" y="331.82" font-size="12" letter-spacing="1" text-anchor="middle">J1</text>
<rect x="66.5" y="303" width="6.5" height="13.5" fill="#000" />
<rect x="67.5" y="304" width="4.5" height="1" fill="#fff" />
<rect x="67.5" y="314.5" width="4.5" height="1.0" fill="#fff" />
<rect x="67.5" y="309.2" width="4.5" height="1.0" fill="#fff" />
<rect x="66.5" y="318.5" width="6.5" height="13.0" fill="#000" />
<rect x="67.5" y="319.5" width="4.5" height="1.0" fill="#fff" />
<rect x="67.5" y="329.5" width="4.5" height="1.0" fill="#fff" />
<rect x="67.5" y="324.5" width="4.5" height="1.0" fill="#fff" />
<polygon points="56.54,340.0 59.0,331.45 61.46,340.0" fill="#fff" stroke="#000" stroke-width="1.9" stroke-linejoin="miter" shape-rendering="auto"/>
<line x1="59.0" y1="331.45" x2="59" y2="321" stroke="#000" stroke-width="3" shape-rendering="auto"/>
<rect x="47" y="338.5" width="25.5" height="18.0" rx="3.5" ry="3.5" fill="#000" shape-rendering="auto"/>
<rect x="48.7" y="340.2" width="21.6" height="14.1" rx="2" ry="2" fill="#fff" shape-rendering="auto"/>
<text x="59.25" y="351.32" font-size="12" letter-spacing="1" text-anchor="middle">J3</text>
<polygon points="199.0,331.72 187.1,335.0 199.0,338.28" fill="#fff" stroke="#000" stroke-width="1.9" stroke-linejoin="miter" shape-rendering="auto"/>
<line x1="187.1" y1="335.0" x2="181.5" y2="335" stroke="#000" stroke-width="3" shape-rendering="auto"/>
<rect x="198" y="327" width="35" height="17" rx="3.5" ry="3.5" fill="#000" shape-rendering="auto"/>
<rect x="199.7" y="328.7" width="31.1" height="13.1" rx="2" ry="2" fill="#fff" shape-rendering="auto"/>
<text x="215.0" y="339.32" font-size="12" letter-spacing="0.6" text-anchor="middle">W15</text>
<polygon points="209.0,349.81 197.1,353.5 209.0,357.19" fill="#fff" stroke="#000" stroke-width="1.9" stroke-linejoin="miter" shape-rendering="auto"/>
<line x1="197.1" y1="353.5" x2="191.5" y2="353.5" stroke="#000" stroke-width="3" shape-rendering="auto"/>
<rect x="208" y="345.5" width="25" height="16.5" rx="3.5" ry="3.5" fill="#000" shape-rendering="auto"/>
<rect x="209.7" y="347.2" width="21.1" height="12.6" rx="2" ry="2" fill="#fff" shape-rendering="auto"/>
<text x="220.0" y="357.57" font-size="12" letter-spacing="1" text-anchor="middle">W1</text>
<polygon points="208.0,368.81 196.78,372.5 208.0,376.19" fill="#fff" stroke="#000" stroke-width="1.9" stroke-linejoin="miter" shape-rendering="auto"/>
<line x1="196.78" y1="372.5" x2="191.5" y2="372.5" stroke="#000" stroke-width="3" shape-rendering="auto"/>
<rect x="207" y="364" width="35" height="17" rx="3.5" ry="3.5" fill="#000" shape-rendering="auto"/>
<rect x="208.7" y="365.7" width="31.1" height="13.1" rx="2" ry="2" fill="#fff" shape-rendering="auto"/>
<text x="224.0" y="376.32" font-size="12" letter-spacing="0.6" text-anchor="middle">W10</text>
<polygon points="159.0,348.81 170.22,352.5 159.0,356.19" fill="#fff" stroke="#000" stroke-width="1.9" stroke-linejoin="miter" shape-rendering="auto"/>
<line x1="170.22" y1="352.5" x2="175.5" y2="352.5" stroke="#000" stroke-width="3" shape-rendering="auto"/>
<rect x="126" y="344" width="35" height="17" rx="3.5" ry="3.5" fill="#000" shape-rendering="auto"/>
<rect x="127.7" y="345.7" width="31.1" height="13.1" rx="2" ry="2" fill="#fff" shape-rendering="auto"/>
<text x="143.0" y="356.32" font-size="12" letter-spacing="0.8" text-anchor="middle">J38</text>
<path d="M177.5,376.5 L186.5,386 M180,376.5 L189,384" fill="none" stroke="#000" stroke-width="1.6" shape-rendering="auto"/>
<rect x="186" y="385" width="34" height="17" rx="3.5" ry="3.5" fill="#000" shape-rendering="auto"/>
<rect x="187.7" y="386.7" width="30.1" height="13.1" rx="2" ry="2" fill="#fff" shape-rendering="auto"/>
<text x="202.5" y="397.32" font-size="12" letter-spacing="0.8" text-anchor="middle">J39</text>
<polygon points="137.0,375.81 147.88,379.5 137.0,383.19" fill="#fff" stroke="#000" stroke-width="1.9" stroke-linejoin="miter" shape-rendering="auto"/>
<line x1="147.88" y1="379.5" x2="153" y2="379.5" stroke="#000" stroke-width="3" shape-rendering="auto"/>
<rect x="114" y="371" width="25" height="17" rx="3.5" ry="3.5" fill="#000" shape-rendering="auto"/>
<rect x="115.7" y="372.7" width="21.1" height="13.1" rx="2" ry="2" fill="#fff" shape-rendering="auto"/>
<text x="126.0" y="383.32" font-size="12" letter-spacing="1" text-anchor="middle">W9</text>
<polygon points="162.54,405.0 165.13,396.9 167.46,405.0" fill="#fff" stroke="#000" stroke-width="1.9" stroke-linejoin="miter" shape-rendering="auto"/>
<line x1="165.13" y1="396.9" x2="165.3" y2="387" stroke="#000" stroke-width="3" shape-rendering="auto"/>
<rect x="151" y="404" width="33" height="17.5" rx="3.5" ry="3.5" fill="#000" shape-rendering="auto"/>
<rect x="152.7" y="405.7" width="29.1" height="13.6" rx="2" ry="2" fill="#fff" shape-rendering="auto"/>
<text x="167.0" y="416.57" font-size="12" letter-spacing="1" text-anchor="middle">J11</text>
<rect x="175.3" y="331" width="6.7" height="14" fill="#000" />
<rect x="176.3" y="332" width="4.7" height="1" fill="#fff" />
<rect x="176.3" y="343" width="4.7" height="1" fill="#fff" />
<rect x="176.3" y="337.5" width="4.7" height="1.0" fill="#fff" />
<rect x="175.3" y="348" width="6.7" height="13.6" fill="#000" />
<rect x="176.3" y="349" width="4.7" height="1" fill="#fff" />
<rect x="176.3" y="359.6" width="4.7" height="1.0" fill="#fff" />
<rect x="176.3" y="354.3" width="4.7" height="1.0" fill="#fff" />
<rect x="185.3" y="348" width="6.7" height="13.6" fill="#000" />
<rect x="186.3" y="349" width="4.7" height="1" fill="#fff" />
<rect x="186.3" y="359.6" width="4.7" height="1.0" fill="#fff" />
<rect x="186.3" y="354.3" width="4.7" height="1.0" fill="#fff" />
<rect x="175.3" y="363" width="6.7" height="13.8" fill="#000" />
<rect x="176.3" y="364" width="1.0" height="11.8" fill="#fff" />
<rect x="176.3" y="364" width="4.7" height="1" fill="#fff" />
<rect x="176.3" y="374.8" width="4.7" height="1.0" fill="#fff" />
<rect x="176.3" y="369.4" width="4.7" height="1.0" fill="#fff" />
<rect x="185.3" y="363" width="6.7" height="13.8" fill="#000" />
<rect x="186.3" y="364" width="1.0" height="11.8" fill="#fff" />
<rect x="186.3" y="364" width="4.7" height="1" fill="#fff" />
<rect x="186.3" y="374.8" width="4.7" height="1.0" fill="#fff" />
<rect x="186.3" y="369.4" width="4.7" height="1.0" fill="#fff" />
<rect x="153" y="362.4" width="6.8" height="30.4" fill="#000" />
<rect x="154" y="363.4" width="4.8" height="28.4" fill="#fff" />
<rect x="155" y="364.4" width="2.8" height="26.4" fill="#000" />
<rect x="155" y="368.3" width="2.8" height="1.0" fill="#fff" />
<rect x="155" y="372.7" width="2.8" height="1.0" fill="#fff" />
<rect x="155" y="377.1" width="2.8" height="1.0" fill="#fff" />
<rect x="155" y="381.5" width="2.8" height="1.0" fill="#fff" />
<rect x="155" y="385.9" width="2.8" height="1.0" fill="#fff" />
<rect x="155" y="364.4" width="2.8" height="3.9" fill="#fff" />
<rect x="155.7" y="365.6" width="1.4" height="1.4" fill="#000" />
<rect x="162.2" y="362.4" width="6.6" height="25.3" fill="#000" />
<rect x="163.2" y="363.4" width="4.6" height="23.3" fill="#fff" />
<rect x="164.2" y="364.4" width="2.6" height="21.3" fill="#000" />
<rect x="164.2" y="368.2" width="2.6" height="1.0" fill="#fff" />
<rect x="164.2" y="372.4" width="2.6" height="1.0" fill="#fff" />
<rect x="164.2" y="376.7" width="2.6" height="1.0" fill="#fff" />
<rect x="164.2" y="380.9" width="2.6" height="1.0" fill="#fff" />
<rect x="164.2" y="364.4" width="2.6" height="3.8" fill="#fff" />
<rect x="164.8" y="365.6" width="1.4" height="1.4" fill="#000" />
<polygon points="266.0,348.81 277.9,352.5 266.0,356.19" fill="#fff" stroke="#000" stroke-width="1.9" stroke-linejoin="miter" shape-rendering="auto"/>
<line x1="277.9" y1="352.5" x2="283.5" y2="352.5" stroke="#000" stroke-width="3" shape-rendering="auto"/>
<rect x="233" y="344" width="35" height="17" rx="3.5" ry="3.5" fill="#000" shape-rendering="auto"/>
<rect x="234.7" y="345.7" width="31.1" height="13.1" rx="2" ry="2" fill="#fff" shape-rendering="auto"/>
<text x="250.0" y="356.32" font-size="12" letter-spacing="0.8" text-anchor="middle">J41</text>
<polygon points="286.63,381.0 289.5,372.9 292.37,381.0" fill="#fff" stroke="#000" stroke-width="1.9" stroke-linejoin="miter" shape-rendering="auto"/>
<line x1="289.5" y1="372.9" x2="289.5" y2="363" stroke="#000" stroke-width="3" shape-rendering="auto"/>
<rect x="275" y="379.5" width="33" height="17.5" rx="3.5" ry="3.5" fill="#000" shape-rendering="auto"/>
<rect x="276.7" y="381.2" width="29.1" height="13.6" rx="2" ry="2" fill="#fff" shape-rendering="auto"/>
<text x="291.0" y="392.07" font-size="12" letter-spacing="0.8" text-anchor="middle">J42</text>
<rect x="283.5" y="350.5" width="18.5" height="12.5" fill="#000" />
<rect x="288.5" y="351.5" width="1.0" height="10.5" fill="#fff" />
<rect x="292" y="352.5" width="3.5" height="3.5" fill="#fff" />
<rect x="296.5" y="352.5" width="3.5" height="3.5" fill="#fff" />
<rect x="292" y="358" width="3.5" height="3.5" fill="#fff" />
<rect x="296.5" y="358" width="3.5" height="3.5" fill="#fff" />
<rect x="284.5" y="356.3" width="16.5" height="1.0" fill="#fff" />
<rect x="292.5" y="321.5" width="31.5" height="12.1" fill="#000" />
<rect x="298.9" y="323.0" width="1.0" height="9.1" fill="#fff" />
<rect x="304.8" y="323.0" width="1.0" height="9.1" fill="#fff" />
<rect x="310.7" y="323.0" width="1.0" height="9.1" fill="#fff" />
<rect x="316.6" y="323.0" width="1.0" height="9.1" fill="#fff" />
<rect x="294.0" y="327.1" width="28.5" height="1.0" fill="#fff" />
<rect x="293.5" y="322.5" width="29.5" height="1.0" fill="#fff" />
<rect x="293.5" y="322.5" width="1.0" height="10.1" fill="#fff" />
<rect x="318.6" y="324.0" width="2.9" height="2.1" fill="#fff" />
<path d="M324,327.5 L333,318 L338,321.5 Z" fill="#fff" stroke="#000" stroke-width="1.6" shape-rendering="auto"/>
<rect x="332" y="305.5" width="33" height="18.0" rx="3.5" ry="3.5" fill="#000" shape-rendering="auto"/>
<rect x="333.7" y="307.2" width="29.1" height="14.1" rx="2" ry="2" fill="#fff" shape-rendering="auto"/>
<text x="348.0" y="318.32" font-size="12" letter-spacing="0.8" text-anchor="middle">J40</text>
<polygon points="408.0,310.81 396.78,314.5 408.0,318.19" fill="#fff" stroke="#000" stroke-width="1.9" stroke-linejoin="miter" shape-rendering="auto"/>
<line x1="396.78" y1="314.5" x2="391.5" y2="314.5" stroke="#000" stroke-width="3" shape-rendering="auto"/>
<rect x="407" y="306" width="25" height="17.5" rx="3.5" ry="3.5" fill="#000" shape-rendering="auto"/>
<rect x="408.7" y="307.7" width="21.1" height="13.6" rx="2" ry="2" fill="#fff" shape-rendering="auto"/>
<text x="419.0" y="318.57" font-size="12" letter-spacing="1" text-anchor="middle">J5</text>
<rect x="384" y="309.7" width="7.4" height="13.3" fill="#000" />
<rect x="385" y="316.5" width="5.4" height="1.0" fill="#fff" />
<rect x="385" y="319.5" width="5.4" height="1.7" fill="#fff" />
<polygon points="377.0,334.81 366.12,338.5 377.0,342.19" fill="#fff" stroke="#000" stroke-width="1.9" stroke-linejoin="miter" shape-rendering="auto"/>
<line x1="366.12" y1="338.5" x2="361" y2="338.5" stroke="#000" stroke-width="3" shape-rendering="auto"/>
<rect x="376" y="329.5" width="25" height="18.0" rx="3.5" ry="3.5" fill="#000" shape-rendering="auto"/>
<rect x="377.7" y="331.2" width="21.1" height="14.1" rx="2" ry="2" fill="#fff" shape-rendering="auto"/>
<text x="388.0" y="342.32" font-size="12" letter-spacing="1" text-anchor="middle">J6</text>
<rect x="354" y="329" width="7" height="18.5" fill="#000" />
<rect x="355.5" y="330.5" width="4.0" height="3.0" fill="#fff" />
<rect x="356.9" y="331.5" width="1.2" height="1.0" fill="#000" />
<rect x="355" y="335.2" width="5" height="1.0" fill="#fff" />
<rect x="355" y="341.3" width="5" height="1.0" fill="#fff" />
<rect x="426.5" y="427.5" width="277.5" height="15" fill="#fff" stroke="#000" stroke-width="1"/>
<line x1="426.5" y1="432.5" x2="434" y2="432.5" stroke="#000" stroke-width="1" />
<line x1="426.5" y1="437.5" x2="434" y2="437.5" stroke="#000" stroke-width="1" />
<line x1="696.5" y1="432.5" x2="704" y2="432.5" stroke="#000" stroke-width="1" />
<line x1="696.5" y1="437.5" x2="704" y2="437.5" stroke="#000" stroke-width="1" />
<line x1="433.8" y1="427" x2="433.8" y2="442.5" stroke="#000" stroke-width="1" />
<line x1="696.7" y1="427" x2="696.7" y2="442.5" stroke="#000" stroke-width="1" />
<rect x="435" y="429" width="2.3" height="12.5" fill="#000" />
<rect x="693.2" y="429" width="2.3" height="12.5" fill="#000" />
<path d="M438.5,440.5 V431 H447 V436.5 H442 V440.5 Z" fill="#fff" stroke="#000" stroke-width="1.2"/>
<path d="M692,440.5 V431 H683.5 V436.5 H688.5 V440.5 Z" fill="#fff" stroke="#000" stroke-width="1.2"/>
<rect x="449.5" y="430" width="86.0" height="11" fill="#000" />
<rect x="451.0" y="431.5" width="1.0" height="4.0" fill="#fff" />
<rect x="453.1" y="431.5" width="1.0" height="4.0" fill="#fff" />
<rect x="455.1" y="431.5" width="1.0" height="4.0" fill="#fff" />
<rect x="457.2" y="431.5" width="1.0" height="4.0" fill="#fff" />
<rect x="459.2" y="431.5" width="1.0" height="4.0" fill="#fff" />
<rect x="461.3" y="431.5" width="1.0" height="4.0" fill="#fff" />
<rect x="463.3" y="431.5" width="1.0" height="4.0" fill="#fff" />
<rect x="465.4" y="431.5" width="1.0" height="4.0" fill="#fff" />
<rect x="467.4" y="431.5" width="1.0" height="4.0" fill="#fff" />
<rect x="469.5" y="431.5" width="1.0" height="4.0" fill="#fff" />
<rect x="471.5" y="431.5" width="1.0" height="4.0" fill="#fff" />
<rect x="473.6" y="431.5" width="1.0" height="4.0" fill="#fff" />
<rect x="475.6" y="431.5" width="1.0" height="4.0" fill="#fff" />
<rect x="477.7" y="431.5" width="1.0" height="4.0" fill="#fff" />
<rect x="479.7" y="431.5" width="1.0" height="4.0" fill="#fff" />
<rect x="481.8" y="431.5" width="1.0" height="4.0" fill="#fff" />
<rect x="483.8" y="431.5" width="1.0" height="4.0" fill="#fff" />
<rect x="485.9" y="431.5" width="1.0" height="4.0" fill="#fff" />
<rect x="487.9" y="431.5" width="1.0" height="4.0" fill="#fff" />
<rect x="490.0" y="431.5" width="1.0" height="4.0" fill="#fff" />
<rect x="492.0" y="431.5" width="1.0" height="4.0" fill="#fff" />
<rect x="494.1" y="431.5" width="1.0" height="4.0" fill="#fff" />
<rect x="496.1" y="431.5" width="1.0" height="4.0" fill="#fff" />
<rect x="498.2" y="431.5" width="1.0" height="4.0" fill="#fff" />
<rect x="500.2" y="431.5" width="1.0" height="4.0" fill="#fff" />
<rect x="502.3" y="431.5" width="1.0" height="4.0" fill="#fff" />
<rect x="504.3" y="431.5" width="1.0" height="4.0" fill="#fff" />
<rect x="506.4" y="431.5" width="1.0" height="4.0" fill="#fff" />
<rect x="508.4" y="431.5" width="1.0" height="4.0" fill="#fff" />
<rect x="510.5" y="431.5" width="1.0" height="4.0" fill="#fff" />
<rect x="512.5" y="431.5" width="1.0" height="4.0" fill="#fff" />
<rect x="514.6" y="431.5" width="1.0" height="4.0" fill="#fff" />
<rect x="516.6" y="431.5" width="1.0" height="4.0" fill="#fff" />
<rect x="518.7" y="431.5" width="1.0" height="4.0" fill="#fff" />
<rect x="520.7" y="431.5" width="1.0" height="4.0" fill="#fff" />
<rect x="522.8" y="431.5" width="1.0" height="4.0" fill="#fff" />
<rect x="524.8" y="431.5" width="1.0" height="4.0" fill="#fff" />
<rect x="526.9" y="431.5" width="1.0" height="4.0" fill="#fff" />
<rect x="528.9" y="431.5" width="1.0" height="4.0" fill="#fff" />
<rect x="530.9" y="431.5" width="1.0" height="4.0" fill="#fff" />
<rect x="533.0" y="431.5" width="1.0" height="4.0" fill="#fff" />
<rect x="595" y="430" width="85.5" height="11" fill="#000" />
<rect x="596.5" y="431.5" width="1.0" height="4.0" fill="#fff" />
<rect x="598.5" y="431.5" width="1.0" height="4.0" fill="#fff" />
<rect x="600.6" y="431.5" width="1.0" height="4.0" fill="#fff" />
<rect x="602.6" y="431.5" width="1.0" height="4.0" fill="#fff" />
<rect x="604.7" y="431.5" width="1.0" height="4.0" fill="#fff" />
<rect x="606.7" y="431.5" width="1.0" height="4.0" fill="#fff" />
<rect x="608.8" y="431.5" width="1.0" height="4.0" fill="#fff" />
<rect x="610.8" y="431.5" width="1.0" height="4.0" fill="#fff" />
<rect x="612.9" y="431.5" width="1.0" height="4.0" fill="#fff" />
<rect x="614.9" y="431.5" width="1.0" height="4.0" fill="#fff" />
<rect x="617.0" y="431.5" width="1.0" height="4.0" fill="#fff" />
<rect x="619.0" y="431.5" width="1.0" height="4.0" fill="#fff" />
<rect x="621.1" y="431.5" width="1.0" height="4.0" fill="#fff" />
<rect x="623.1" y="431.5" width="1.0" height="4.0" fill="#fff" />
<rect x="625.2" y="431.5" width="1.0" height="4.0" fill="#fff" />
<rect x="627.2" y="431.5" width="1.0" height="4.0" fill="#fff" />
<rect x="629.3" y="431.5" width="1.0" height="4.0" fill="#fff" />
<rect x="631.3" y="431.5" width="1.0" height="4.0" fill="#fff" />
<rect x="633.4" y="431.5" width="1.0" height="4.0" fill="#fff" />
<rect x="635.4" y="431.5" width="1.0" height="4.0" fill="#fff" />
<rect x="637.5" y="431.5" width="1.0" height="4.0" fill="#fff" />
<rect x="639.5" y="431.5" width="1.0" height="4.0" fill="#fff" />
<rect x="641.6" y="431.5" width="1.0" height="4.0" fill="#fff" />
<rect x="643.6" y="431.5" width="1.0" height="4.0" fill="#fff" />
<rect x="645.7" y="431.5" width="1.0" height="4.0" fill="#fff" />
<rect x="647.7" y="431.5" width="1.0" height="4.0" fill="#fff" />
<rect x="649.8" y="431.5" width="1.0" height="4.0" fill="#fff" />
<rect x="651.8" y="431.5" width="1.0" height="4.0" fill="#fff" />
<rect x="653.9" y="431.5" width="1.0" height="4.0" fill="#fff" />
<rect x="655.9" y="431.5" width="1.0" height="4.0" fill="#fff" />
<rect x="658.0" y="431.5" width="1.0" height="4.0" fill="#fff" />
<rect x="660.0" y="431.5" width="1.0" height="4.0" fill="#fff" />
<rect x="662.1" y="431.5" width="1.0" height="4.0" fill="#fff" />
<rect x="664.1" y="431.5" width="1.0" height="4.0" fill="#fff" />
<rect x="666.2" y="431.5" width="1.0" height="4.0" fill="#fff" />
<rect x="668.2" y="431.5" width="1.0" height="4.0" fill="#fff" />
<rect x="670.3" y="431.5" width="1.0" height="4.0" fill="#fff" />
<rect x="672.3" y="431.5" width="1.0" height="4.0" fill="#fff" />
<rect x="674.4" y="431.5" width="1.0" height="4.0" fill="#fff" />
<rect x="676.4" y="431.5" width="1.0" height="4.0" fill="#fff" />
<rect x="678.5" y="431.5" width="1.0" height="4.0" fill="#fff" />
<rect x="426.5" y="444.5" width="277.5" height="15" fill="#fff" stroke="#000" stroke-width="1"/>
<line x1="426.5" y1="449.5" x2="434" y2="449.5" stroke="#000" stroke-width="1" />
<line x1="426.5" y1="454.5" x2="434" y2="454.5" stroke="#000" stroke-width="1" />
<line x1="696.5" y1="449.5" x2="704" y2="449.5" stroke="#000" stroke-width="1" />
<line x1="696.5" y1="454.5" x2="704" y2="454.5" stroke="#000" stroke-width="1" />
<line x1="433.8" y1="444" x2="433.8" y2="459.5" stroke="#000" stroke-width="1" />
<line x1="696.7" y1="444" x2="696.7" y2="459.5" stroke="#000" stroke-width="1" />
<rect x="435" y="446" width="2.3" height="12.5" fill="#000" />
<rect x="693.2" y="446" width="2.3" height="12.5" fill="#000" />
<path d="M438.5,457.5 V448 H447 V453.5 H442 V457.5 Z" fill="#fff" stroke="#000" stroke-width="1.2"/>
<path d="M692,457.5 V448 H683.5 V453.5 H688.5 V457.5 Z" fill="#fff" stroke="#000" stroke-width="1.2"/>
<rect x="449.5" y="447" width="86.0" height="11" fill="#000" />
<rect x="451.0" y="448.5" width="1.0" height="4.0" fill="#fff" />
<rect x="453.1" y="448.5" width="1.0" height="4.0" fill="#fff" />
<rect x="455.1" y="448.5" width="1.0" height="4.0" fill="#fff" />
<rect x="457.2" y="448.5" width="1.0" height="4.0" fill="#fff" />
<rect x="459.2" y="448.5" width="1.0" height="4.0" fill="#fff" />
<rect x="461.3" y="448.5" width="1.0" height="4.0" fill="#fff" />
<rect x="463.3" y="448.5" width="1.0" height="4.0" fill="#fff" />
<rect x="465.4" y="448.5" width="1.0" height="4.0" fill="#fff" />
<rect x="467.4" y="448.5" width="1.0" height="4.0" fill="#fff" />
<rect x="469.5" y="448.5" width="1.0" height="4.0" fill="#fff" />
<rect x="471.5" y="448.5" width="1.0" height="4.0" fill="#fff" />
<rect x="473.6" y="448.5" width="1.0" height="4.0" fill="#fff" />
<rect x="475.6" y="448.5" width="1.0" height="4.0" fill="#fff" />
<rect x="477.7" y="448.5" width="1.0" height="4.0" fill="#fff" />
<rect x="479.7" y="448.5" width="1.0" height="4.0" fill="#fff" />
<rect x="481.8" y="448.5" width="1.0" height="4.0" fill="#fff" />
<rect x="483.8" y="448.5" width="1.0" height="4.0" fill="#fff" />
<rect x="485.9" y="448.5" width="1.0" height="4.0" fill="#fff" />
<rect x="487.9" y="448.5" width="1.0" height="4.0" fill="#fff" />
<rect x="490.0" y="448.5" width="1.0" height="4.0" fill="#fff" />
<rect x="492.0" y="448.5" width="1.0" height="4.0" fill="#fff" />
<rect x="494.1" y="448.5" width="1.0" height="4.0" fill="#fff" />
<rect x="496.1" y="448.5" width="1.0" height="4.0" fill="#fff" />
<rect x="498.2" y="448.5" width="1.0" height="4.0" fill="#fff" />
<rect x="500.2" y="448.5" width="1.0" height="4.0" fill="#fff" />
<rect x="502.3" y="448.5" width="1.0" height="4.0" fill="#fff" />
<rect x="504.3" y="448.5" width="1.0" height="4.0" fill="#fff" />
<rect x="506.4" y="448.5" width="1.0" height="4.0" fill="#fff" />
<rect x="508.4" y="448.5" width="1.0" height="4.0" fill="#fff" />
<rect x="510.5" y="448.5" width="1.0" height="4.0" fill="#fff" />
<rect x="512.5" y="448.5" width="1.0" height="4.0" fill="#fff" />
<rect x="514.6" y="448.5" width="1.0" height="4.0" fill="#fff" />
<rect x="516.6" y="448.5" width="1.0" height="4.0" fill="#fff" />
<rect x="518.7" y="448.5" width="1.0" height="4.0" fill="#fff" />
<rect x="520.7" y="448.5" width="1.0" height="4.0" fill="#fff" />
<rect x="522.8" y="448.5" width="1.0" height="4.0" fill="#fff" />
<rect x="524.8" y="448.5" width="1.0" height="4.0" fill="#fff" />
<rect x="526.9" y="448.5" width="1.0" height="4.0" fill="#fff" />
<rect x="528.9" y="448.5" width="1.0" height="4.0" fill="#fff" />
<rect x="530.9" y="448.5" width="1.0" height="4.0" fill="#fff" />
<rect x="533.0" y="448.5" width="1.0" height="4.0" fill="#fff" />
<rect x="595" y="447" width="85.5" height="11" fill="#000" />
<rect x="596.5" y="448.5" width="1.0" height="4.0" fill="#fff" />
<rect x="598.5" y="448.5" width="1.0" height="4.0" fill="#fff" />
<rect x="600.6" y="448.5" width="1.0" height="4.0" fill="#fff" />
<rect x="602.6" y="448.5" width="1.0" height="4.0" fill="#fff" />
<rect x="604.7" y="448.5" width="1.0" height="4.0" fill="#fff" />
<rect x="606.7" y="448.5" width="1.0" height="4.0" fill="#fff" />
<rect x="608.8" y="448.5" width="1.0" height="4.0" fill="#fff" />
<rect x="610.8" y="448.5" width="1.0" height="4.0" fill="#fff" />
<rect x="612.9" y="448.5" width="1.0" height="4.0" fill="#fff" />
<rect x="614.9" y="448.5" width="1.0" height="4.0" fill="#fff" />
<rect x="617.0" y="448.5" width="1.0" height="4.0" fill="#fff" />
<rect x="619.0" y="448.5" width="1.0" height="4.0" fill="#fff" />
<rect x="621.1" y="448.5" width="1.0" height="4.0" fill="#fff" />
<rect x="623.1" y="448.5" width="1.0" height="4.0" fill="#fff" />
<rect x="625.2" y="448.5" width="1.0" height="4.0" fill="#fff" />
<rect x="627.2" y="448.5" width="1.0" height="4.0" fill="#fff" />
<rect x="629.3" y="448.5" width="1.0" height="4.0" fill="#fff" />
<rect x="631.3" y="448.5" width="1.0" height="4.0" fill="#fff" />
<rect x="633.4" y="448.5" width="1.0" height="4.0" fill="#fff" />
<rect x="635.4" y="448.5" width="1.0" height="4.0" fill="#fff" />
<rect x="637.5" y="448.5" width="1.0" height="4.0" fill="#fff" />
<rect x="639.5" y="448.5" width="1.0" height="4.0" fill="#fff" />
<rect x="641.6" y="448.5" width="1.0" height="4.0" fill="#fff" />
<rect x="643.6" y="448.5" width="1.0" height="4.0" fill="#fff" />
<rect x="645.7" y="448.5" width="1.0" height="4.0" fill="#fff" />
<rect x="647.7" y="448.5" width="1.0" height="4.0" fill="#fff" />
<rect x="649.8" y="448.5" width="1.0" height="4.0" fill="#fff" />
<rect x="651.8" y="448.5" width="1.0" height="4.0" fill="#fff" />
<rect x="653.9" y="448.5" width="1.0" height="4.0" fill="#fff" />
<rect x="655.9" y="448.5" width="1.0" height="4.0" fill="#fff" />
<rect x="658.0" y="448.5" width="1.0" height="4.0" fill="#fff" />
<rect x="660.0" y="448.5" width="1.0" height="4.0" fill="#fff" />
<rect x="662.1" y="448.5" width="1.0" height="4.0" fill="#fff" />
<rect x="664.1" y="448.5" width="1.0" height="4.0" fill="#fff" />
<rect x="666.2" y="448.5" width="1.0" height="4.0" fill="#fff" />
<rect x="668.2" y="448.5" width="1.0" height="4.0" fill="#fff" />
<rect x="670.3" y="448.5" width="1.0" height="4.0" fill="#fff" />
<rect x="672.3" y="448.5" width="1.0" height="4.0" fill="#fff" />
<rect x="674.4" y="448.5" width="1.0" height="4.0" fill="#fff" />
<rect x="676.4" y="448.5" width="1.0" height="4.0" fill="#fff" />
<rect x="678.5" y="448.5" width="1.0" height="4.0" fill="#fff" />
<rect x="426.5" y="461.5" width="277.5" height="15" fill="#fff" stroke="#000" stroke-width="1"/>
<line x1="426.5" y1="466.5" x2="434" y2="466.5" stroke="#000" stroke-width="1" />
<line x1="426.5" y1="471.5" x2="434" y2="471.5" stroke="#000" stroke-width="1" />
<line x1="696.5" y1="466.5" x2="704" y2="466.5" stroke="#000" stroke-width="1" />
<line x1="696.5" y1="471.5" x2="704" y2="471.5" stroke="#000" stroke-width="1" />
<line x1="433.8" y1="461" x2="433.8" y2="476.5" stroke="#000" stroke-width="1" />
<line x1="696.7" y1="461" x2="696.7" y2="476.5" stroke="#000" stroke-width="1" />
<rect x="435" y="463" width="2.3" height="12.5" fill="#000" />
<rect x="693.2" y="463" width="2.3" height="12.5" fill="#000" />
<path d="M438.5,474.5 V465 H447 V470.5 H442 V474.5 Z" fill="#fff" stroke="#000" stroke-width="1.2"/>
<path d="M692,474.5 V465 H683.5 V470.5 H688.5 V474.5 Z" fill="#fff" stroke="#000" stroke-width="1.2"/>
<rect x="449.5" y="464" width="86.0" height="11" fill="#000" />
<rect x="451.0" y="465.5" width="1.0" height="4.0" fill="#fff" />
<rect x="453.1" y="465.5" width="1.0" height="4.0" fill="#fff" />
<rect x="455.1" y="465.5" width="1.0" height="4.0" fill="#fff" />
<rect x="457.2" y="465.5" width="1.0" height="4.0" fill="#fff" />
<rect x="459.2" y="465.5" width="1.0" height="4.0" fill="#fff" />
<rect x="461.3" y="465.5" width="1.0" height="4.0" fill="#fff" />
<rect x="463.3" y="465.5" width="1.0" height="4.0" fill="#fff" />
<rect x="465.4" y="465.5" width="1.0" height="4.0" fill="#fff" />
<rect x="467.4" y="465.5" width="1.0" height="4.0" fill="#fff" />
<rect x="469.5" y="465.5" width="1.0" height="4.0" fill="#fff" />
<rect x="471.5" y="465.5" width="1.0" height="4.0" fill="#fff" />
<rect x="473.6" y="465.5" width="1.0" height="4.0" fill="#fff" />
<rect x="475.6" y="465.5" width="1.0" height="4.0" fill="#fff" />
<rect x="477.7" y="465.5" width="1.0" height="4.0" fill="#fff" />
<rect x="479.7" y="465.5" width="1.0" height="4.0" fill="#fff" />
<rect x="481.8" y="465.5" width="1.0" height="4.0" fill="#fff" />
<rect x="483.8" y="465.5" width="1.0" height="4.0" fill="#fff" />
<rect x="485.9" y="465.5" width="1.0" height="4.0" fill="#fff" />
<rect x="487.9" y="465.5" width="1.0" height="4.0" fill="#fff" />
<rect x="490.0" y="465.5" width="1.0" height="4.0" fill="#fff" />
<rect x="492.0" y="465.5" width="1.0" height="4.0" fill="#fff" />
<rect x="494.1" y="465.5" width="1.0" height="4.0" fill="#fff" />
<rect x="496.1" y="465.5" width="1.0" height="4.0" fill="#fff" />
<rect x="498.2" y="465.5" width="1.0" height="4.0" fill="#fff" />
<rect x="500.2" y="465.5" width="1.0" height="4.0" fill="#fff" />
<rect x="502.3" y="465.5" width="1.0" height="4.0" fill="#fff" />
<rect x="504.3" y="465.5" width="1.0" height="4.0" fill="#fff" />
<rect x="506.4" y="465.5" width="1.0" height="4.0" fill="#fff" />
<rect x="508.4" y="465.5" width="1.0" height="4.0" fill="#fff" />
<rect x="510.5" y="465.5" width="1.0" height="4.0" fill="#fff" />
<rect x="512.5" y="465.5" width="1.0" height="4.0" fill="#fff" />
<rect x="514.6" y="465.5" width="1.0" height="4.0" fill="#fff" />
<rect x="516.6" y="465.5" width="1.0" height="4.0" fill="#fff" />
<rect x="518.7" y="465.5" width="1.0" height="4.0" fill="#fff" />
<rect x="520.7" y="465.5" width="1.0" height="4.0" fill="#fff" />
<rect x="522.8" y="465.5" width="1.0" height="4.0" fill="#fff" />
<rect x="524.8" y="465.5" width="1.0" height="4.0" fill="#fff" />
<rect x="526.9" y="465.5" width="1.0" height="4.0" fill="#fff" />
<rect x="528.9" y="465.5" width="1.0" height="4.0" fill="#fff" />
<rect x="530.9" y="465.5" width="1.0" height="4.0" fill="#fff" />
<rect x="533.0" y="465.5" width="1.0" height="4.0" fill="#fff" />
<rect x="595" y="464" width="85.5" height="11" fill="#000" />
<rect x="596.5" y="465.5" width="1.0" height="4.0" fill="#fff" />
<rect x="598.5" y="465.5" width="1.0" height="4.0" fill="#fff" />
<rect x="600.6" y="465.5" width="1.0" height="4.0" fill="#fff" />
<rect x="602.6" y="465.5" width="1.0" height="4.0" fill="#fff" />
<rect x="604.7" y="465.5" width="1.0" height="4.0" fill="#fff" />
<rect x="606.7" y="465.5" width="1.0" height="4.0" fill="#fff" />
<rect x="608.8" y="465.5" width="1.0" height="4.0" fill="#fff" />
<rect x="610.8" y="465.5" width="1.0" height="4.0" fill="#fff" />
<rect x="612.9" y="465.5" width="1.0" height="4.0" fill="#fff" />
<rect x="614.9" y="465.5" width="1.0" height="4.0" fill="#fff" />
<rect x="617.0" y="465.5" width="1.0" height="4.0" fill="#fff" />
<rect x="619.0" y="465.5" width="1.0" height="4.0" fill="#fff" />
<rect x="621.1" y="465.5" width="1.0" height="4.0" fill="#fff" />
<rect x="623.1" y="465.5" width="1.0" height="4.0" fill="#fff" />
<rect x="625.2" y="465.5" width="1.0" height="4.0" fill="#fff" />
<rect x="627.2" y="465.5" width="1.0" height="4.0" fill="#fff" />
<rect x="629.3" y="465.5" width="1.0" height="4.0" fill="#fff" />
<rect x="631.3" y="465.5" width="1.0" height="4.0" fill="#fff" />
<rect x="633.4" y="465.5" width="1.0" height="4.0" fill="#fff" />
<rect x="635.4" y="465.5" width="1.0" height="4.0" fill="#fff" />
<rect x="637.5" y="465.5" width="1.0" height="4.0" fill="#fff" />
<rect x="639.5" y="465.5" width="1.0" height="4.0" fill="#fff" />
<rect x="641.6" y="465.5" width="1.0" height="4.0" fill="#fff" />
<rect x="643.6" y="465.5" width="1.0" height="4.0" fill="#fff" />
<rect x="645.7" y="465.5" width="1.0" height="4.0" fill="#fff" />
<rect x="647.7" y="465.5" width="1.0" height="4.0" fill="#fff" />
<rect x="649.8" y="465.5" width="1.0" height="4.0" fill="#fff" />
<rect x="651.8" y="465.5" width="1.0" height="4.0" fill="#fff" />
<rect x="653.9" y="465.5" width="1.0" height="4.0" fill="#fff" />
<rect x="655.9" y="465.5" width="1.0" height="4.0" fill="#fff" />
<rect x="658.0" y="465.5" width="1.0" height="4.0" fill="#fff" />
<rect x="660.0" y="465.5" width="1.0" height="4.0" fill="#fff" />
<rect x="662.1" y="465.5" width="1.0" height="4.0" fill="#fff" />
<rect x="664.1" y="465.5" width="1.0" height="4.0" fill="#fff" />
<rect x="666.2" y="465.5" width="1.0" height="4.0" fill="#fff" />
<rect x="668.2" y="465.5" width="1.0" height="4.0" fill="#fff" />
<rect x="670.3" y="465.5" width="1.0" height="4.0" fill="#fff" />
<rect x="672.3" y="465.5" width="1.0" height="4.0" fill="#fff" />
<rect x="674.4" y="465.5" width="1.0" height="4.0" fill="#fff" />
<rect x="676.4" y="465.5" width="1.0" height="4.0" fill="#fff" />
<rect x="678.5" y="465.5" width="1.0" height="4.0" fill="#fff" />
<rect x="426.5" y="478.5" width="277.5" height="15" fill="#fff" stroke="#000" stroke-width="1"/>
<line x1="426.5" y1="483.5" x2="434" y2="483.5" stroke="#000" stroke-width="1" />
<line x1="426.5" y1="488.5" x2="434" y2="488.5" stroke="#000" stroke-width="1" />
<line x1="696.5" y1="483.5" x2="704" y2="483.5" stroke="#000" stroke-width="1" />
<line x1="696.5" y1="488.5" x2="704" y2="488.5" stroke="#000" stroke-width="1" />
<line x1="433.8" y1="478" x2="433.8" y2="493.5" stroke="#000" stroke-width="1" />
<line x1="696.7" y1="478" x2="696.7" y2="493.5" stroke="#000" stroke-width="1" />
<rect x="435" y="480" width="2.3" height="12.5" fill="#000" />
<rect x="693.2" y="480" width="2.3" height="12.5" fill="#000" />
<path d="M438.5,491.5 V482 H447 V487.5 H442 V491.5 Z" fill="#fff" stroke="#000" stroke-width="1.2"/>
<path d="M692,491.5 V482 H683.5 V487.5 H688.5 V491.5 Z" fill="#fff" stroke="#000" stroke-width="1.2"/>
<rect x="449.5" y="481" width="86.0" height="11" fill="#000" />
<rect x="451.0" y="482.5" width="1.0" height="4.0" fill="#fff" />
<rect x="453.1" y="482.5" width="1.0" height="4.0" fill="#fff" />
<rect x="455.1" y="482.5" width="1.0" height="4.0" fill="#fff" />
<rect x="457.2" y="482.5" width="1.0" height="4.0" fill="#fff" />
<rect x="459.2" y="482.5" width="1.0" height="4.0" fill="#fff" />
<rect x="461.3" y="482.5" width="1.0" height="4.0" fill="#fff" />
<rect x="463.3" y="482.5" width="1.0" height="4.0" fill="#fff" />
<rect x="465.4" y="482.5" width="1.0" height="4.0" fill="#fff" />
<rect x="467.4" y="482.5" width="1.0" height="4.0" fill="#fff" />
<rect x="469.5" y="482.5" width="1.0" height="4.0" fill="#fff" />
<rect x="471.5" y="482.5" width="1.0" height="4.0" fill="#fff" />
<rect x="473.6" y="482.5" width="1.0" height="4.0" fill="#fff" />
<rect x="475.6" y="482.5" width="1.0" height="4.0" fill="#fff" />
<rect x="477.7" y="482.5" width="1.0" height="4.0" fill="#fff" />
<rect x="479.7" y="482.5" width="1.0" height="4.0" fill="#fff" />
<rect x="481.8" y="482.5" width="1.0" height="4.0" fill="#fff" />
<rect x="483.8" y="482.5" width="1.0" height="4.0" fill="#fff" />
<rect x="485.9" y="482.5" width="1.0" height="4.0" fill="#fff" />
<rect x="487.9" y="482.5" width="1.0" height="4.0" fill="#fff" />
<rect x="490.0" y="482.5" width="1.0" height="4.0" fill="#fff" />
<rect x="492.0" y="482.5" width="1.0" height="4.0" fill="#fff" />
<rect x="494.1" y="482.5" width="1.0" height="4.0" fill="#fff" />
<rect x="496.1" y="482.5" width="1.0" height="4.0" fill="#fff" />
<rect x="498.2" y="482.5" width="1.0" height="4.0" fill="#fff" />
<rect x="500.2" y="482.5" width="1.0" height="4.0" fill="#fff" />
<rect x="502.3" y="482.5" width="1.0" height="4.0" fill="#fff" />
<rect x="504.3" y="482.5" width="1.0" height="4.0" fill="#fff" />
<rect x="506.4" y="482.5" width="1.0" height="4.0" fill="#fff" />
<rect x="508.4" y="482.5" width="1.0" height="4.0" fill="#fff" />
<rect x="510.5" y="482.5" width="1.0" height="4.0" fill="#fff" />
<rect x="512.5" y="482.5" width="1.0" height="4.0" fill="#fff" />
<rect x="514.6" y="482.5" width="1.0" height="4.0" fill="#fff" />
<rect x="516.6" y="482.5" width="1.0" height="4.0" fill="#fff" />
<rect x="518.7" y="482.5" width="1.0" height="4.0" fill="#fff" />
<rect x="520.7" y="482.5" width="1.0" height="4.0" fill="#fff" />
<rect x="522.8" y="482.5" width="1.0" height="4.0" fill="#fff" />
<rect x="524.8" y="482.5" width="1.0" height="4.0" fill="#fff" />
<rect x="526.9" y="482.5" width="1.0" height="4.0" fill="#fff" />
<rect x="528.9" y="482.5" width="1.0" height="4.0" fill="#fff" />
<rect x="530.9" y="482.5" width="1.0" height="4.0" fill="#fff" />
<rect x="533.0" y="482.5" width="1.0" height="4.0" fill="#fff" />
<rect x="595" y="481" width="85.5" height="11" fill="#000" />
<rect x="596.5" y="482.5" width="1.0" height="4.0" fill="#fff" />
<rect x="598.5" y="482.5" width="1.0" height="4.0" fill="#fff" />
<rect x="600.6" y="482.5" width="1.0" height="4.0" fill="#fff" />
<rect x="602.6" y="482.5" width="1.0" height="4.0" fill="#fff" />
<rect x="604.7" y="482.5" width="1.0" height="4.0" fill="#fff" />
<rect x="606.7" y="482.5" width="1.0" height="4.0" fill="#fff" />
<rect x="608.8" y="482.5" width="1.0" height="4.0" fill="#fff" />
<rect x="610.8" y="482.5" width="1.0" height="4.0" fill="#fff" />
<rect x="612.9" y="482.5" width="1.0" height="4.0" fill="#fff" />
<rect x="614.9" y="482.5" width="1.0" height="4.0" fill="#fff" />
<rect x="617.0" y="482.5" width="1.0" height="4.0" fill="#fff" />
<rect x="619.0" y="482.5" width="1.0" height="4.0" fill="#fff" />
<rect x="621.1" y="482.5" width="1.0" height="4.0" fill="#fff" />
<rect x="623.1" y="482.5" width="1.0" height="4.0" fill="#fff" />
<rect x="625.2" y="482.5" width="1.0" height="4.0" fill="#fff" />
<rect x="627.2" y="482.5" width="1.0" height="4.0" fill="#fff" />
<rect x="629.3" y="482.5" width="1.0" height="4.0" fill="#fff" />
<rect x="631.3" y="482.5" width="1.0" height="4.0" fill="#fff" />
<rect x="633.4" y="482.5" width="1.0" height="4.0" fill="#fff" />
<rect x="635.4" y="482.5" width="1.0" height="4.0" fill="#fff" />
<rect x="637.5" y="482.5" width="1.0" height="4.0" fill="#fff" />
<rect x="639.5" y="482.5" width="1.0" height="4.0" fill="#fff" />
<rect x="641.6" y="482.5" width="1.0" height="4.0" fill="#fff" />
<rect x="643.6" y="482.5" width="1.0" height="4.0" fill="#fff" />
<rect x="645.7" y="482.5" width="1.0" height="4.0" fill="#fff" />
<rect x="647.7" y="482.5" width="1.0" height="4.0" fill="#fff" />
<rect x="649.8" y="482.5" width="1.0" height="4.0" fill="#fff" />
<rect x="651.8" y="482.5" width="1.0" height="4.0" fill="#fff" />
<rect x="653.9" y="482.5" width="1.0" height="4.0" fill="#fff" />
<rect x="655.9" y="482.5" width="1.0" height="4.0" fill="#fff" />
<rect x="658.0" y="482.5" width="1.0" height="4.0" fill="#fff" />
<rect x="660.0" y="482.5" width="1.0" height="4.0" fill="#fff" />
<rect x="662.1" y="482.5" width="1.0" height="4.0" fill="#fff" />
<rect x="664.1" y="482.5" width="1.0" height="4.0" fill="#fff" />
<rect x="666.2" y="482.5" width="1.0" height="4.0" fill="#fff" />
<rect x="668.2" y="482.5" width="1.0" height="4.0" fill="#fff" />
<rect x="670.3" y="482.5" width="1.0" height="4.0" fill="#fff" />
<rect x="672.3" y="482.5" width="1.0" height="4.0" fill="#fff" />
<rect x="674.4" y="482.5" width="1.0" height="4.0" fill="#fff" />
<rect x="676.4" y="482.5" width="1.0" height="4.0" fill="#fff" />
<rect x="678.5" y="482.5" width="1.0" height="4.0" fill="#fff" />
<rect x="426.5" y="495.5" width="277.5" height="15" fill="#fff" stroke="#000" stroke-width="1"/>
<line x1="426.5" y1="500.5" x2="434" y2="500.5" stroke="#000" stroke-width="1" />
<line x1="426.5" y1="505.5" x2="434" y2="505.5" stroke="#000" stroke-width="1" />
<line x1="696.5" y1="500.5" x2="704" y2="500.5" stroke="#000" stroke-width="1" />
<line x1="696.5" y1="505.5" x2="704" y2="505.5" stroke="#000" stroke-width="1" />
<line x1="433.8" y1="495" x2="433.8" y2="510.5" stroke="#000" stroke-width="1" />
<line x1="696.7" y1="495" x2="696.7" y2="510.5" stroke="#000" stroke-width="1" />
<rect x="435" y="497" width="2.3" height="12.5" fill="#000" />
<rect x="693.2" y="497" width="2.3" height="12.5" fill="#000" />
<path d="M438.5,508.5 V499 H447 V504.5 H442 V508.5 Z" fill="#fff" stroke="#000" stroke-width="1.2"/>
<path d="M692,508.5 V499 H683.5 V504.5 H688.5 V508.5 Z" fill="#fff" stroke="#000" stroke-width="1.2"/>
<rect x="449.5" y="498" width="86.0" height="11" fill="#000" />
<rect x="451.0" y="499.5" width="1.0" height="4.0" fill="#fff" />
<rect x="453.1" y="499.5" width="1.0" height="4.0" fill="#fff" />
<rect x="455.1" y="499.5" width="1.0" height="4.0" fill="#fff" />
<rect x="457.2" y="499.5" width="1.0" height="4.0" fill="#fff" />
<rect x="459.2" y="499.5" width="1.0" height="4.0" fill="#fff" />
<rect x="461.3" y="499.5" width="1.0" height="4.0" fill="#fff" />
<rect x="463.3" y="499.5" width="1.0" height="4.0" fill="#fff" />
<rect x="465.4" y="499.5" width="1.0" height="4.0" fill="#fff" />
<rect x="467.4" y="499.5" width="1.0" height="4.0" fill="#fff" />
<rect x="469.5" y="499.5" width="1.0" height="4.0" fill="#fff" />
<rect x="471.5" y="499.5" width="1.0" height="4.0" fill="#fff" />
<rect x="473.6" y="499.5" width="1.0" height="4.0" fill="#fff" />
<rect x="475.6" y="499.5" width="1.0" height="4.0" fill="#fff" />
<rect x="477.7" y="499.5" width="1.0" height="4.0" fill="#fff" />
<rect x="479.7" y="499.5" width="1.0" height="4.0" fill="#fff" />
<rect x="481.8" y="499.5" width="1.0" height="4.0" fill="#fff" />
<rect x="483.8" y="499.5" width="1.0" height="4.0" fill="#fff" />
<rect x="485.9" y="499.5" width="1.0" height="4.0" fill="#fff" />
<rect x="487.9" y="499.5" width="1.0" height="4.0" fill="#fff" />
<rect x="490.0" y="499.5" width="1.0" height="4.0" fill="#fff" />
<rect x="492.0" y="499.5" width="1.0" height="4.0" fill="#fff" />
<rect x="494.1" y="499.5" width="1.0" height="4.0" fill="#fff" />
<rect x="496.1" y="499.5" width="1.0" height="4.0" fill="#fff" />
<rect x="498.2" y="499.5" width="1.0" height="4.0" fill="#fff" />
<rect x="500.2" y="499.5" width="1.0" height="4.0" fill="#fff" />
<rect x="502.3" y="499.5" width="1.0" height="4.0" fill="#fff" />
<rect x="504.3" y="499.5" width="1.0" height="4.0" fill="#fff" />
<rect x="506.4" y="499.5" width="1.0" height="4.0" fill="#fff" />
<rect x="508.4" y="499.5" width="1.0" height="4.0" fill="#fff" />
<rect x="510.5" y="499.5" width="1.0" height="4.0" fill="#fff" />
<rect x="512.5" y="499.5" width="1.0" height="4.0" fill="#fff" />
<rect x="514.6" y="499.5" width="1.0" height="4.0" fill="#fff" />
<rect x="516.6" y="499.5" width="1.0" height="4.0" fill="#fff" />
<rect x="518.7" y="499.5" width="1.0" height="4.0" fill="#fff" />
<rect x="520.7" y="499.5" width="1.0" height="4.0" fill="#fff" />
<rect x="522.8" y="499.5" width="1.0" height="4.0" fill="#fff" />
<rect x="524.8" y="499.5" width="1.0" height="4.0" fill="#fff" />
<rect x="526.9" y="499.5" width="1.0" height="4.0" fill="#fff" />
<rect x="528.9" y="499.5" width="1.0" height="4.0" fill="#fff" />
<rect x="530.9" y="499.5" width="1.0" height="4.0" fill="#fff" />
<rect x="533.0" y="499.5" width="1.0" height="4.0" fill="#fff" />
<rect x="595" y="498" width="85.5" height="11" fill="#000" />
<rect x="596.5" y="499.5" width="1.0" height="4.0" fill="#fff" />
<rect x="598.5" y="499.5" width="1.0" height="4.0" fill="#fff" />
<rect x="600.6" y="499.5" width="1.0" height="4.0" fill="#fff" />
<rect x="602.6" y="499.5" width="1.0" height="4.0" fill="#fff" />
<rect x="604.7" y="499.5" width="1.0" height="4.0" fill="#fff" />
<rect x="606.7" y="499.5" width="1.0" height="4.0" fill="#fff" />
<rect x="608.8" y="499.5" width="1.0" height="4.0" fill="#fff" />
<rect x="610.8" y="499.5" width="1.0" height="4.0" fill="#fff" />
<rect x="612.9" y="499.5" width="1.0" height="4.0" fill="#fff" />
<rect x="614.9" y="499.5" width="1.0" height="4.0" fill="#fff" />
<rect x="617.0" y="499.5" width="1.0" height="4.0" fill="#fff" />
<rect x="619.0" y="499.5" width="1.0" height="4.0" fill="#fff" />
<rect x="621.1" y="499.5" width="1.0" height="4.0" fill="#fff" />
<rect x="623.1" y="499.5" width="1.0" height="4.0" fill="#fff" />
<rect x="625.2" y="499.5" width="1.0" height="4.0" fill="#fff" />
<rect x="627.2" y="499.5" width="1.0" height="4.0" fill="#fff" />
<rect x="629.3" y="499.5" width="1.0" height="4.0" fill="#fff" />
<rect x="631.3" y="499.5" width="1.0" height="4.0" fill="#fff" />
<rect x="633.4" y="499.5" width="1.0" height="4.0" fill="#fff" />
<rect x="635.4" y="499.5" width="1.0" height="4.0" fill="#fff" />
<rect x="637.5" y="499.5" width="1.0" height="4.0" fill="#fff" />
<rect x="639.5" y="499.5" width="1.0" height="4.0" fill="#fff" />
<rect x="641.6" y="499.5" width="1.0" height="4.0" fill="#fff" />
<rect x="643.6" y="499.5" width="1.0" height="4.0" fill="#fff" />
<rect x="645.7" y="499.5" width="1.0" height="4.0" fill="#fff" />
<rect x="647.7" y="499.5" width="1.0" height="4.0" fill="#fff" />
<rect x="649.8" y="499.5" width="1.0" height="4.0" fill="#fff" />
<rect x="651.8" y="499.5" width="1.0" height="4.0" fill="#fff" />
<rect x="653.9" y="499.5" width="1.0" height="4.0" fill="#fff" />
<rect x="655.9" y="499.5" width="1.0" height="4.0" fill="#fff" />
<rect x="658.0" y="499.5" width="1.0" height="4.0" fill="#fff" />
<rect x="660.0" y="499.5" width="1.0" height="4.0" fill="#fff" />
<rect x="662.1" y="499.5" width="1.0" height="4.0" fill="#fff" />
<rect x="664.1" y="499.5" width="1.0" height="4.0" fill="#fff" />
<rect x="666.2" y="499.5" width="1.0" height="4.0" fill="#fff" />
<rect x="668.2" y="499.5" width="1.0" height="4.0" fill="#fff" />
<rect x="670.3" y="499.5" width="1.0" height="4.0" fill="#fff" />
<rect x="672.3" y="499.5" width="1.0" height="4.0" fill="#fff" />
<rect x="674.4" y="499.5" width="1.0" height="4.0" fill="#fff" />
<rect x="676.4" y="499.5" width="1.0" height="4.0" fill="#fff" />
<rect x="678.5" y="499.5" width="1.0" height="4.0" fill="#fff" />
<rect x="426.5" y="512.5" width="277.5" height="15" fill="#fff" stroke="#000" stroke-width="1"/>
<line x1="426.5" y1="517.5" x2="434" y2="517.5" stroke="#000" stroke-width="1" />
<line x1="426.5" y1="522.5" x2="434" y2="522.5" stroke="#000" stroke-width="1" />
<line x1="696.5" y1="517.5" x2="704" y2="517.5" stroke="#000" stroke-width="1" />
<line x1="696.5" y1="522.5" x2="704" y2="522.5" stroke="#000" stroke-width="1" />
<line x1="433.8" y1="512" x2="433.8" y2="527.5" stroke="#000" stroke-width="1" />
<line x1="696.7" y1="512" x2="696.7" y2="527.5" stroke="#000" stroke-width="1" />
<rect x="435" y="514" width="2.3" height="12.5" fill="#000" />
<rect x="693.2" y="514" width="2.3" height="12.5" fill="#000" />
<path d="M438.5,525.5 V516 H447 V521.5 H442 V525.5 Z" fill="#fff" stroke="#000" stroke-width="1.2"/>
<path d="M692,525.5 V516 H683.5 V521.5 H688.5 V525.5 Z" fill="#fff" stroke="#000" stroke-width="1.2"/>
<rect x="449.5" y="515" width="86.0" height="11" fill="#000" />
<rect x="451.0" y="516.5" width="1.0" height="4.0" fill="#fff" />
<rect x="453.1" y="516.5" width="1.0" height="4.0" fill="#fff" />
<rect x="455.1" y="516.5" width="1.0" height="4.0" fill="#fff" />
<rect x="457.2" y="516.5" width="1.0" height="4.0" fill="#fff" />
<rect x="459.2" y="516.5" width="1.0" height="4.0" fill="#fff" />
<rect x="461.3" y="516.5" width="1.0" height="4.0" fill="#fff" />
<rect x="463.3" y="516.5" width="1.0" height="4.0" fill="#fff" />
<rect x="465.4" y="516.5" width="1.0" height="4.0" fill="#fff" />
<rect x="467.4" y="516.5" width="1.0" height="4.0" fill="#fff" />
<rect x="469.5" y="516.5" width="1.0" height="4.0" fill="#fff" />
<rect x="471.5" y="516.5" width="1.0" height="4.0" fill="#fff" />
<rect x="473.6" y="516.5" width="1.0" height="4.0" fill="#fff" />
<rect x="475.6" y="516.5" width="1.0" height="4.0" fill="#fff" />
<rect x="477.7" y="516.5" width="1.0" height="4.0" fill="#fff" />
<rect x="479.7" y="516.5" width="1.0" height="4.0" fill="#fff" />
<rect x="481.8" y="516.5" width="1.0" height="4.0" fill="#fff" />
<rect x="483.8" y="516.5" width="1.0" height="4.0" fill="#fff" />
<rect x="485.9" y="516.5" width="1.0" height="4.0" fill="#fff" />
<rect x="487.9" y="516.5" width="1.0" height="4.0" fill="#fff" />
<rect x="490.0" y="516.5" width="1.0" height="4.0" fill="#fff" />
<rect x="492.0" y="516.5" width="1.0" height="4.0" fill="#fff" />
<rect x="494.1" y="516.5" width="1.0" height="4.0" fill="#fff" />
<rect x="496.1" y="516.5" width="1.0" height="4.0" fill="#fff" />
<rect x="498.2" y="516.5" width="1.0" height="4.0" fill="#fff" />
<rect x="500.2" y="516.5" width="1.0" height="4.0" fill="#fff" />
<rect x="502.3" y="516.5" width="1.0" height="4.0" fill="#fff" />
<rect x="504.3" y="516.5" width="1.0" height="4.0" fill="#fff" />
<rect x="506.4" y="516.5" width="1.0" height="4.0" fill="#fff" />
<rect x="508.4" y="516.5" width="1.0" height="4.0" fill="#fff" />
<rect x="510.5" y="516.5" width="1.0" height="4.0" fill="#fff" />
<rect x="512.5" y="516.5" width="1.0" height="4.0" fill="#fff" />
<rect x="514.6" y="516.5" width="1.0" height="4.0" fill="#fff" />
<rect x="516.6" y="516.5" width="1.0" height="4.0" fill="#fff" />
<rect x="518.7" y="516.5" width="1.0" height="4.0" fill="#fff" />
<rect x="520.7" y="516.5" width="1.0" height="4.0" fill="#fff" />
<rect x="522.8" y="516.5" width="1.0" height="4.0" fill="#fff" />
<rect x="524.8" y="516.5" width="1.0" height="4.0" fill="#fff" />
<rect x="526.9" y="516.5" width="1.0" height="4.0" fill="#fff" />
<rect x="528.9" y="516.5" width="1.0" height="4.0" fill="#fff" />
<rect x="530.9" y="516.5" width="1.0" height="4.0" fill="#fff" />
<rect x="533.0" y="516.5" width="1.0" height="4.0" fill="#fff" />
<rect x="595" y="515" width="85.5" height="11" fill="#000" />
<rect x="596.5" y="516.5" width="1.0" height="4.0" fill="#fff" />
<rect x="598.5" y="516.5" width="1.0" height="4.0" fill="#fff" />
<rect x="600.6" y="516.5" width="1.0" height="4.0" fill="#fff" />
<rect x="602.6" y="516.5" width="1.0" height="4.0" fill="#fff" />
<rect x="604.7" y="516.5" width="1.0" height="4.0" fill="#fff" />
<rect x="606.7" y="516.5" width="1.0" height="4.0" fill="#fff" />
<rect x="608.8" y="516.5" width="1.0" height="4.0" fill="#fff" />
<rect x="610.8" y="516.5" width="1.0" height="4.0" fill="#fff" />
<rect x="612.9" y="516.5" width="1.0" height="4.0" fill="#fff" />
<rect x="614.9" y="516.5" width="1.0" height="4.0" fill="#fff" />
<rect x="617.0" y="516.5" width="1.0" height="4.0" fill="#fff" />
<rect x="619.0" y="516.5" width="1.0" height="4.0" fill="#fff" />
<rect x="621.1" y="516.5" width="1.0" height="4.0" fill="#fff" />
<rect x="623.1" y="516.5" width="1.0" height="4.0" fill="#fff" />
<rect x="625.2" y="516.5" width="1.0" height="4.0" fill="#fff" />
<rect x="627.2" y="516.5" width="1.0" height="4.0" fill="#fff" />
<rect x="629.3" y="516.5" width="1.0" height="4.0" fill="#fff" />
<rect x="631.3" y="516.5" width="1.0" height="4.0" fill="#fff" />
<rect x="633.4" y="516.5" width="1.0" height="4.0" fill="#fff" />
<rect x="635.4" y="516.5" width="1.0" height="4.0" fill="#fff" />
<rect x="637.5" y="516.5" width="1.0" height="4.0" fill="#fff" />
<rect x="639.5" y="516.5" width="1.0" height="4.0" fill="#fff" />
<rect x="641.6" y="516.5" width="1.0" height="4.0" fill="#fff" />
<rect x="643.6" y="516.5" width="1.0" height="4.0" fill="#fff" />
<rect x="645.7" y="516.5" width="1.0" height="4.0" fill="#fff" />
<rect x="647.7" y="516.5" width="1.0" height="4.0" fill="#fff" />
<rect x="649.8" y="516.5" width="1.0" height="4.0" fill="#fff" />
<rect x="651.8" y="516.5" width="1.0" height="4.0" fill="#fff" />
<rect x="653.9" y="516.5" width="1.0" height="4.0" fill="#fff" />
<rect x="655.9" y="516.5" width="1.0" height="4.0" fill="#fff" />
<rect x="658.0" y="516.5" width="1.0" height="4.0" fill="#fff" />
<rect x="660.0" y="516.5" width="1.0" height="4.0" fill="#fff" />
<rect x="662.1" y="516.5" width="1.0" height="4.0" fill="#fff" />
<rect x="664.1" y="516.5" width="1.0" height="4.0" fill="#fff" />
<rect x="666.2" y="516.5" width="1.0" height="4.0" fill="#fff" />
<rect x="668.2" y="516.5" width="1.0" height="4.0" fill="#fff" />
<rect x="670.3" y="516.5" width="1.0" height="4.0" fill="#fff" />
<rect x="672.3" y="516.5" width="1.0" height="4.0" fill="#fff" />
<rect x="674.4" y="516.5" width="1.0" height="4.0" fill="#fff" />
<rect x="676.4" y="516.5" width="1.0" height="4.0" fill="#fff" />
<rect x="678.5" y="516.5" width="1.0" height="4.0" fill="#fff" />
<rect x="535.3" y="424.2" width="59.7" height="104.8" rx="4.5" fill="#000" shape-rendering="auto"/>
<rect x="537.2" y="427" width="56" height="13.6" rx="2.5" fill="#fff" shape-rendering="auto"/>
<text x="565" y="438.2" font-size="12" letter-spacing="0.75" text-anchor="middle" style="white-space:pre">BANK 5</text>
<rect x="537.2" y="443.9" width="56" height="13.7" rx="2.5" fill="#fff" shape-rendering="auto"/>
<text x="565" y="455.15" font-size="12" letter-spacing="0.75" text-anchor="middle" style="white-space:pre">BANK 4</text>
<rect x="537.2" y="460.9" width="56" height="13.7" rx="2.5" fill="#fff" shape-rendering="auto"/>
<text x="565" y="472.15" font-size="12" letter-spacing="0.75" text-anchor="middle" style="white-space:pre">BANK 3</text>
<rect x="537.2" y="477.8" width="56" height="14.0" rx="2.5" fill="#fff" shape-rendering="auto"/>
<text x="565" y="489.2" font-size="12" letter-spacing="0.75" text-anchor="middle" style="white-space:pre">BANK 2</text>
<rect x="537.2" y="495.3" width="56" height="13.6" rx="2.5" fill="#fff" shape-rendering="auto"/>
<text x="565" y="506.5" font-size="12" letter-spacing="0.75" text-anchor="middle" style="white-space:pre">BANK 1</text>
<rect x="537.2" y="512.3" width="56" height="14.5" rx="2.5" fill="#fff" shape-rendering="auto"/>
<text x="565" y="523.95" font-size="12" letter-spacing="0.75" text-anchor="middle" style="white-space:pre">BANK 0</text>
<rect x="426.5" y="540" width="118.5" height="13" fill="#000" />
<rect x="432.8" y="541.5" width="1.0" height="10.0" fill="#fff" />
<rect x="438.6" y="541.5" width="1.0" height="10.0" fill="#fff" />
<rect x="444.5" y="541.5" width="1.0" height="10.0" fill="#fff" />
<rect x="450.3" y="541.5" width="1.0" height="10.0" fill="#fff" />
<rect x="456.1" y="541.5" width="1.0" height="10.0" fill="#fff" />
<rect x="461.9" y="541.5" width="1.0" height="10.0" fill="#fff" />
<rect x="467.8" y="541.5" width="1.0" height="10.0" fill="#fff" />
<rect x="473.6" y="541.5" width="1.0" height="10.0" fill="#fff" />
<rect x="479.4" y="541.5" width="1.0" height="10.0" fill="#fff" />
<rect x="485.2" y="541.5" width="1.0" height="10.0" fill="#fff" />
<rect x="491.1" y="541.5" width="1.0" height="10.0" fill="#fff" />
<rect x="496.9" y="541.5" width="1.0" height="10.0" fill="#fff" />
<rect x="502.7" y="541.5" width="1.0" height="10.0" fill="#fff" />
<rect x="508.6" y="541.5" width="1.0" height="10.0" fill="#fff" />
<rect x="514.4" y="541.5" width="1.0" height="10.0" fill="#fff" />
<rect x="520.2" y="541.5" width="1.0" height="10.0" fill="#fff" />
<rect x="526.0" y="541.5" width="1.0" height="10.0" fill="#fff" />
<rect x="531.9" y="541.5" width="1.0" height="10.0" fill="#fff" />
<rect x="537.7" y="541.5" width="1.0" height="10.0" fill="#fff" />
<rect x="428.0" y="546.0" width="115.5" height="1.0" fill="#fff" />
<rect x="427.5" y="541" width="116.5" height="1" fill="#fff" />
<rect x="427.5" y="541" width="1.0" height="11" fill="#fff" />
<rect x="539.7" y="542.5" width="2.8" height="2.5" fill="#fff" />
<polygon points="492.63,570.0 495.38,559.8 498.37,570.0" fill="#fff" stroke="#000" stroke-width="1.9" stroke-linejoin="miter" shape-rendering="auto"/>
<line x1="495.38" y1="559.8" x2="495.3" y2="553" stroke="#000" stroke-width="3" shape-rendering="auto"/>
<rect x="479" y="569" width="34" height="17.5" rx="3.5" ry="3.5" fill="#000" shape-rendering="auto"/>
<rect x="480.7" y="570.7" width="30.1" height="13.6" rx="2" ry="2" fill="#fff" shape-rendering="auto"/>
<text x="495.5" y="581.57" font-size="12" letter-spacing="0.8" text-anchor="middle">J22</text>
<rect x="554" y="540" width="100" height="12" fill="#000" />
<rect x="560.3" y="541.5" width="1.0" height="9.0" fill="#fff" />
<rect x="566.0" y="541.5" width="1.0" height="9.0" fill="#fff" />
<rect x="571.8" y="541.5" width="1.0" height="9.0" fill="#fff" />
<rect x="577.6" y="541.5" width="1.0" height="9.0" fill="#fff" />
<rect x="583.3" y="541.5" width="1.0" height="9.0" fill="#fff" />
<rect x="589.1" y="541.5" width="1.0" height="9.0" fill="#fff" />
<rect x="594.9" y="541.5" width="1.0" height="9.0" fill="#fff" />
<rect x="600.6" y="541.5" width="1.0" height="9.0" fill="#fff" />
<rect x="606.4" y="541.5" width="1.0" height="9.0" fill="#fff" />
<rect x="612.1" y="541.5" width="1.0" height="9.0" fill="#fff" />
<rect x="617.9" y="541.5" width="1.0" height="9.0" fill="#fff" />
<rect x="623.7" y="541.5" width="1.0" height="9.0" fill="#fff" />
<rect x="629.4" y="541.5" width="1.0" height="9.0" fill="#fff" />
<rect x="635.2" y="541.5" width="1.0" height="9.0" fill="#fff" />
<rect x="641.0" y="541.5" width="1.0" height="9.0" fill="#fff" />
<rect x="646.7" y="541.5" width="1.0" height="9.0" fill="#fff" />
<rect x="555.5" y="545.5" width="97.0" height="1.0" fill="#fff" />
<rect x="555" y="541" width="98" height="1" fill="#fff" />
<rect x="555" y="541" width="1" height="10" fill="#fff" />
<rect x="648.7" y="542.5" width="2.8" height="2.0" fill="#fff" />
<polygon points="598.63,569.0 601.32,558.8 604.37,569.0" fill="#fff" stroke="#000" stroke-width="1.9" stroke-linejoin="miter" shape-rendering="auto"/>
<line x1="601.32" y1="558.8" x2="601.2" y2="552" stroke="#000" stroke-width="3" shape-rendering="auto"/>
<rect x="585" y="568" width="34" height="18.5" rx="3.5" ry="3.5" fill="#000" shape-rendering="auto"/>
<rect x="586.7" y="569.7" width="30.1" height="14.6" rx="2" ry="2" fill="#fff" shape-rendering="auto"/>
<text x="601.5" y="581.07" font-size="12" letter-spacing="0.8" text-anchor="middle">J19</text>
<rect x="674" y="539.5" width="48" height="13.5" fill="#000" />
<rect x="680.2" y="541.0" width="1.0" height="10.5" fill="#fff" />
<rect x="686.0" y="541.0" width="1.0" height="10.5" fill="#fff" />
<rect x="691.8" y="541.0" width="1.0" height="10.5" fill="#fff" />
<rect x="697.5" y="541.0" width="1.0" height="10.5" fill="#fff" />
<rect x="703.2" y="541.0" width="1.0" height="10.5" fill="#fff" />
<rect x="709.0" y="541.0" width="1.0" height="10.5" fill="#fff" />
<rect x="714.8" y="541.0" width="1.0" height="10.5" fill="#fff" />
<rect x="675.5" y="545.8" width="45.0" height="1.0" fill="#fff" />
<rect x="675" y="540.5" width="46" height="1.0" fill="#fff" />
<rect x="675" y="540.5" width="1" height="11.5" fill="#fff" />
<rect x="716.8" y="542.0" width="2.7" height="2.8" fill="#fff" />
<polygon points="695.63,570.0 698.38,559.8 701.37,570.0" fill="#fff" stroke="#000" stroke-width="1.9" stroke-linejoin="miter" shape-rendering="auto"/>
<line x1="698.38" y1="559.8" x2="698.3" y2="553" stroke="#000" stroke-width="3" shape-rendering="auto"/>
<rect x="683" y="569" width="34" height="18.5" rx="3.5" ry="3.5" fill="#000" shape-rendering="auto"/>
<rect x="684.7" y="570.7" width="30.1" height="14.6" rx="2" ry="2" fill="#fff" shape-rendering="auto"/>
<text x="699.5" y="582.07" font-size="12" letter-spacing="0.8" text-anchor="middle">J18</text>
<polygon points="425.46,598.54 428.85,594.7 420.54,603.46" fill="#fff" stroke="#000" stroke-width="1.9" stroke-linejoin="miter" shape-rendering="auto"/>
<line x1="428.85" y1="594.7" x2="436" y2="587" stroke="#000" stroke-width="3" shape-rendering="auto"/>
<polygon points="455.54,598.54 452.6,594.7 460.46,603.46" fill="#fff" stroke="#000" stroke-width="1.9" stroke-linejoin="miter" shape-rendering="auto"/>
<line x1="452.6" y1="594.7" x2="446" y2="587" stroke="#000" stroke-width="3" shape-rendering="auto"/>
<rect x="403" y="595.5" width="25" height="18.0" rx="3.5" ry="3.5" fill="#000" shape-rendering="auto"/>
<rect x="404.7" y="597.2" width="21.1" height="14.1" rx="2" ry="2" fill="#fff" shape-rendering="auto"/>
<text x="415.0" y="608.32" font-size="12" letter-spacing="1" text-anchor="middle">W7</text>
<rect x="453" y="595.5" width="26" height="18.0" rx="3.5" ry="3.5" fill="#000" shape-rendering="auto"/>
<rect x="454.7" y="597.2" width="22.1" height="14.1" rx="2" ry="2" fill="#fff" shape-rendering="auto"/>
<text x="465.5" y="608.32" font-size="12" letter-spacing="1" text-anchor="middle">W6</text>
<rect x="434" y="575" width="14" height="13" fill="#000" />
<rect x="435.5" y="577" width="11.0" height="1" fill="#fff" />
<rect x="435.5" y="581" width="11.0" height="1" fill="#fff" />
<rect x="440.7" y="576" width="1.0" height="11" fill="#fff" />
<polygon points="471.0,640.31 481.88,644.0 471.0,647.69" fill="#fff" stroke="#000" stroke-width="1.9" stroke-linejoin="miter" shape-rendering="auto"/>
<line x1="481.88" y1="644.0" x2="487" y2="644" stroke="#000" stroke-width="3" shape-rendering="auto"/>
<rect x="447" y="635" width="26" height="18.5" rx="3.5" ry="3.5" fill="#000" shape-rendering="auto"/>
<rect x="448.7" y="636.7" width="22.1" height="14.6" rx="2" ry="2" fill="#fff" shape-rendering="auto"/>
<text x="459.5" y="648.07" font-size="12" letter-spacing="1" text-anchor="middle">W3</text>
<polygon points="521.0,640.31 509.44,644.0 521.0,647.69" fill="#fff" stroke="#000" stroke-width="1.9" stroke-linejoin="miter" shape-rendering="auto"/>
<line x1="509.44" y1="644.0" x2="504" y2="644" stroke="#000" stroke-width="3" shape-rendering="auto"/>
<rect x="520" y="635" width="26" height="18.5" rx="3.5" ry="3.5" fill="#000" shape-rendering="auto"/>
<rect x="521.7" y="636.7" width="22.1" height="14.6" rx="2" ry="2" fill="#fff" shape-rendering="auto"/>
<text x="532.5" y="648.07" font-size="12" letter-spacing="1" text-anchor="middle">W4</text>
<rect x="487" y="636.5" width="7" height="14.0" fill="#000" />
<rect x="488" y="637.5" width="5" height="1.0" fill="#fff" />
<rect x="488" y="648.5" width="5" height="1.0" fill="#fff" />
<rect x="488" y="643.0" width="5" height="1.0" fill="#fff" />
<rect x="497" y="636.5" width="7" height="14.0" fill="#000" />
<rect x="498" y="637.5" width="5" height="1.0" fill="#fff" />
<rect x="498" y="648.5" width="5" height="1.0" fill="#fff" />
<rect x="498" y="643.0" width="5" height="1.0" fill="#fff" />
<rect x="569" y="628" width="76.5" height="39" fill="#000" />
<text x="575" y="645.5" font-size="12.4" font-weight="bold" fill="#fff" textLength="64" lengthAdjust="spacingAndGlyphs" style="white-space:pre">REAL TIME</text>
<text x="588" y="658.7" font-size="12.4" font-weight="bold" fill="#fff" textLength="39" lengthAdjust="spacingAndGlyphs">CLOCK</text>
<polygon points="685,628 743.5,628 747.5,632 747.5,667.5 743.5,671.5 685,671.5 681,667.5 681,632" fill="#000"/>
<rect x="689" y="628" width="1" height="2" fill="#fff" />
<rect x="691" y="669.5" width="1" height="2.0" fill="#fff" />
<rect x="692" y="628" width="1" height="2" fill="#fff" />
<rect x="694" y="669.5" width="1" height="2.0" fill="#fff" />
<rect x="695" y="628" width="1" height="2" fill="#fff" />
<rect x="697" y="669.5" width="1" height="2.0" fill="#fff" />
<rect x="707" y="628" width="1" height="2" fill="#fff" />
<rect x="709" y="669.5" width="1" height="2.0" fill="#fff" />
<rect x="710" y="628" width="1" height="2" fill="#fff" />
<rect x="712" y="669.5" width="1" height="2.0" fill="#fff" />
<rect x="721" y="628" width="1" height="2" fill="#fff" />
<rect x="723" y="669.5" width="1" height="2.0" fill="#fff" />
<rect x="724" y="628" width="1" height="2" fill="#fff" />
<rect x="726" y="669.5" width="1" height="2.0" fill="#fff" />
<rect x="727" y="628" width="1" height="2" fill="#fff" />
<rect x="729" y="669.5" width="1" height="2.0" fill="#fff" />
<rect x="735" y="628" width="1" height="2" fill="#fff" />
<rect x="737" y="669.5" width="1" height="2.0" fill="#fff" />
<rect x="738" y="628" width="1" height="2" fill="#fff" />
<rect x="740" y="669.5" width="1" height="2.0" fill="#fff" />
<rect x="681" y="637" width="2" height="1" fill="#fff" />
<rect x="745.5" y="635" width="2.0" height="1" fill="#fff" />
<rect x="681" y="640" width="2" height="1" fill="#fff" />
<rect x="745.5" y="638" width="2.0" height="1" fill="#fff" />
<rect x="681" y="643" width="2" height="1" fill="#fff" />
<rect x="745.5" y="641" width="2.0" height="1" fill="#fff" />
<rect x="681" y="655" width="2" height="1" fill="#fff" />
<rect x="745.5" y="653" width="2.0" height="1" fill="#fff" />
<rect x="681" y="658" width="2" height="1" fill="#fff" />
<rect x="745.5" y="656" width="2.0" height="1" fill="#fff" />
<rect x="681" y="661" width="2" height="1" fill="#fff" />
<rect x="745.5" y="659" width="2.0" height="1" fill="#fff" />
<circle cx="690.5" cy="661.3" r="2" fill="#fff" shape-rendering="auto"/>
<polygon points="390,628 425.5,628 428.5,631 428.5,671 425.5,674 390,674 387,671 387,631" fill="#000"/>
<rect x="385" y="635" width="2" height="1" fill="#000" />
<rect x="428.5" y="635" width="2.5" height="1" fill="#000" />
<rect x="385" y="637" width="2" height="1" fill="#000" />
<rect x="428.5" y="637" width="2.5" height="1" fill="#000" />
<rect x="385" y="639" width="2" height="1" fill="#000" />
<rect x="428.5" y="639" width="2.5" height="1" fill="#000" />
<rect x="385" y="641" width="2" height="1" fill="#000" />
<rect x="428.5" y="641" width="2.5" height="1" fill="#000" />
<rect x="385" y="643" width="2" height="1" fill="#000" />
<rect x="428.5" y="643" width="2.5" height="1" fill="#000" />
<rect x="385" y="645" width="2" height="1" fill="#000" />
<rect x="428.5" y="645" width="2.5" height="1" fill="#000" />
<rect x="385" y="647" width="2" height="1" fill="#000" />
<rect x="428.5" y="647" width="2.5" height="1" fill="#000" />
<rect x="385" y="649" width="2" height="1" fill="#000" />
<rect x="428.5" y="649" width="2.5" height="1" fill="#000" />
<rect x="385" y="651" width="2" height="1" fill="#000" />
<rect x="428.5" y="651" width="2.5" height="1" fill="#000" />
<rect x="385" y="653" width="2" height="1" fill="#000" />
<rect x="428.5" y="653" width="2.5" height="1" fill="#000" />
<rect x="385" y="655" width="2" height="1" fill="#000" />
<rect x="428.5" y="655" width="2.5" height="1" fill="#000" />
<rect x="385" y="657" width="2" height="1" fill="#000" />
<rect x="428.5" y="657" width="2.5" height="1" fill="#000" />
<rect x="385" y="659" width="2" height="1" fill="#000" />
<rect x="428.5" y="659" width="2.5" height="1" fill="#000" />
<rect x="385" y="661" width="2" height="1" fill="#000" />
<rect x="428.5" y="661" width="2.5" height="1" fill="#000" />
<rect x="385" y="663" width="2" height="1" fill="#000" />
<rect x="428.5" y="663" width="2.5" height="1" fill="#000" />
<rect x="385" y="665" width="2" height="1" fill="#000" />
<rect x="428.5" y="665" width="2.5" height="1" fill="#000" />
<rect x="385" y="667" width="2" height="1" fill="#000" />
<rect x="428.5" y="667" width="2.5" height="1" fill="#000" />
<rect x="388.5" y="644" width="39.5" height="14" fill="#fff" />
<text x="408.3" y="655.5" font-size="12" letter-spacing="0.8" text-anchor="middle">BIOS</text>
<rect x="828.5" y="381.5" width="33.5" height="38.5" fill="#fff" stroke="#000" stroke-width="1"/>
<rect x="862" y="381" width="6" height="39.5" fill="#000" />
<rect x="830" y="395" width="31" height="19" rx="3.5" ry="3.5" fill="#000" shape-rendering="auto"/>
<rect x="831.7" y="396.7" width="27.1" height="15.1" rx="2" ry="2" fill="#fff" shape-rendering="auto"/>
<text x="845.0" y="408.32" font-size="12" letter-spacing="0.8" text-anchor="middle">J15</text>
<rect x="837" y="438" width="31" height="38.5" fill="#000" />
<rect x="862" y="432" width="6" height="49.5" fill="#000" />
<rect x="834" y="444.5" width="4" height="24.5" fill="#000" />
<rect x="830.5" y="447.5" width="6" height="7.5" fill="#fff" stroke="#000" stroke-width="1"/>
<rect x="830.5" y="458.5" width="6" height="8" fill="#fff" stroke="#000" stroke-width="1"/>
<rect x="731" y="450" width="32.5" height="13" fill="#000" />
<rect x="737.6" y="451.5" width="1.0" height="10.0" fill="#fff" />
<rect x="743.7" y="451.5" width="1.0" height="10.0" fill="#fff" />
<rect x="749.8" y="451.5" width="1.0" height="10.0" fill="#fff" />
<rect x="755.9" y="451.5" width="1.0" height="10.0" fill="#fff" />
<rect x="732.5" y="456.0" width="29.5" height="1.0" fill="#fff" />
<rect x="732" y="451" width="30.5" height="1" fill="#fff" />
<rect x="732" y="451" width="1" height="11" fill="#fff" />
<rect x="757.9" y="452.5" width="3.1" height="2.5" fill="#fff" />
<path d="M763.5,449.5 L770.5,439 L775,442 Z" fill="#fff" stroke="#000" stroke-width="1.6" shape-rendering="auto"/>
<rect x="770" y="424.5" width="34" height="18.0" rx="3.5" ry="3.5" fill="#000" shape-rendering="auto"/>
<rect x="771.7" y="426.2" width="30.1" height="14.1" rx="2" ry="2" fill="#fff" shape-rendering="auto"/>
<text x="786.5" y="437.32" font-size="12" letter-spacing="0.8" text-anchor="middle">J20</text>
<rect x="733" y="490" width="31" height="13" fill="#000" />
<rect x="739.3" y="491.5" width="1.0" height="10.0" fill="#fff" />
<rect x="745.1" y="491.5" width="1.0" height="10.0" fill="#fff" />
<rect x="750.9" y="491.5" width="1.0" height="10.0" fill="#fff" />
<rect x="756.7" y="491.5" width="1.0" height="10.0" fill="#fff" />
<rect x="734.5" y="496.0" width="28.0" height="1.0" fill="#fff" />
<rect x="734" y="491" width="29" height="1" fill="#fff" />
<rect x="734" y="491" width="1" height="11" fill="#fff" />
<rect x="758.7" y="492.5" width="2.8" height="2.5" fill="#fff" />
<polygon points="744.63,522.0 747.38,510.6 750.37,522.0" fill="#fff" stroke="#000" stroke-width="1.9" stroke-linejoin="miter" shape-rendering="auto"/>
<line x1="747.38" y1="510.6" x2="747.3" y2="503" stroke="#000" stroke-width="3" shape-rendering="auto"/>
<rect x="731" y="521" width="34" height="17.5" rx="3.5" ry="3.5" fill="#000" shape-rendering="auto"/>
<rect x="732.7" y="522.7" width="30.1" height="13.6" rx="2" ry="2" fill="#fff" shape-rendering="auto"/>
<text x="747.5" y="533.57" font-size="12" letter-spacing="0.8" text-anchor="middle">J21</text>
<rect x="797.5" y="490.5" width="24.5" height="111" fill="#fff" stroke="#000" stroke-width="1"/>
<rect x="800.5" y="494.7" width="7" height="6.5" fill="#fff" stroke="#000" stroke-width="1"/>
<rect x="809.5" y="493.7" width="2.0" height="6.5" fill="#000" />
<rect x="815.5" y="495.2" width="3" height="5.5" fill="#fff" stroke="#000" stroke-width="0.9"/>
<rect x="813" y="499.7" width="3" height="1.5" fill="#000" />
<rect x="800.5" y="504.1" width="7" height="6.5" fill="#fff" stroke="#000" stroke-width="1"/>
<rect x="809.5" y="503.1" width="2.0" height="6.5" fill="#000" />
<rect x="815.5" y="504.6" width="3" height="5.5" fill="#fff" stroke="#000" stroke-width="0.9"/>
<rect x="813" y="509.1" width="3" height="1.5" fill="#000" />
<rect x="800.5" y="513.5" width="7" height="6.5" fill="#fff" stroke="#000" stroke-width="1"/>
<rect x="809.5" y="512.5" width="2.0" height="6.5" fill="#000" />
<rect x="815.5" y="514.0" width="3" height="5.5" fill="#fff" stroke="#000" stroke-width="0.9"/>
<rect x="813" y="518.5" width="3" height="1.5" fill="#000" />
<rect x="800.5" y="522.9" width="7" height="6.5" fill="#fff" stroke="#000" stroke-width="1"/>
<rect x="809.5" y="521.9" width="2.0" height="6.5" fill="#000" />
<rect x="815.5" y="523.4" width="3" height="5.5" fill="#fff" stroke="#000" stroke-width="0.9"/>
<rect x="813" y="527.9" width="3" height="1.5" fill="#000" />
<rect x="800.5" y="532.3" width="7" height="6.5" fill="#fff" stroke="#000" stroke-width="1"/>
<rect x="809.5" y="531.3" width="2.0" height="6.5" fill="#000" />
<rect x="815.5" y="532.8" width="3" height="5.5" fill="#fff" stroke="#000" stroke-width="0.9"/>
<rect x="813" y="537.3" width="3" height="1.5" fill="#000" />
<rect x="800.5" y="541.7" width="7" height="6.5" fill="#fff" stroke="#000" stroke-width="1"/>
<rect x="809.5" y="540.7" width="2.0" height="6.5" fill="#000" />
<rect x="815.5" y="542.2" width="3" height="5.5" fill="#fff" stroke="#000" stroke-width="0.9"/>
<rect x="813" y="546.7" width="3" height="1.5" fill="#000" />
<rect x="800.5" y="551.1" width="7" height="6.5" fill="#fff" stroke="#000" stroke-width="1"/>
<rect x="809.5" y="550.1" width="2.0" height="6.5" fill="#000" />
<rect x="815.5" y="551.6" width="3" height="5.5" fill="#fff" stroke="#000" stroke-width="0.9"/>
<rect x="813" y="556.1" width="3" height="1.5" fill="#000" />
<rect x="800.5" y="560.5" width="7" height="6.5" fill="#fff" stroke="#000" stroke-width="1"/>
<rect x="809.5" y="559.5" width="2.0" height="6.5" fill="#000" />
<rect x="815.5" y="561.0" width="3" height="5.5" fill="#fff" stroke="#000" stroke-width="0.9"/>
<rect x="813" y="565.5" width="3" height="1.5" fill="#000" />
<rect x="800.5" y="569.9" width="7" height="6.5" fill="#fff" stroke="#000" stroke-width="1"/>
<rect x="809.5" y="568.9" width="2.0" height="6.5" fill="#000" />
<rect x="815.5" y="570.4" width="3" height="5.5" fill="#fff" stroke="#000" stroke-width="0.9"/>
<rect x="813" y="574.9" width="3" height="1.5" fill="#000" />
<rect x="800.5" y="579.3" width="7" height="6.5" fill="#fff" stroke="#000" stroke-width="1"/>
<rect x="809.5" y="578.3" width="2.0" height="6.5" fill="#000" />
<rect x="815.5" y="579.8" width="3" height="5.5" fill="#fff" stroke="#000" stroke-width="0.9"/>
<rect x="813" y="584.3" width="3" height="1.5" fill="#000" />
<rect x="800.5" y="588.7" width="7" height="6.5" fill="#fff" stroke="#000" stroke-width="1"/>
<rect x="809.5" y="587.7" width="2.0" height="6.5" fill="#000" />
<rect x="815.5" y="589.2" width="3" height="5.5" fill="#fff" stroke="#000" stroke-width="0.9"/>
<rect x="813" y="593.7" width="3" height="1.5" fill="#000" />
<line x1="813" y1="490.5" x2="813" y2="601.5" stroke="#000" stroke-width="1" />
<line x1="820" y1="490.5" x2="820" y2="601.5" stroke="#000" stroke-width="0.8" />
</svg>
</body></html>
